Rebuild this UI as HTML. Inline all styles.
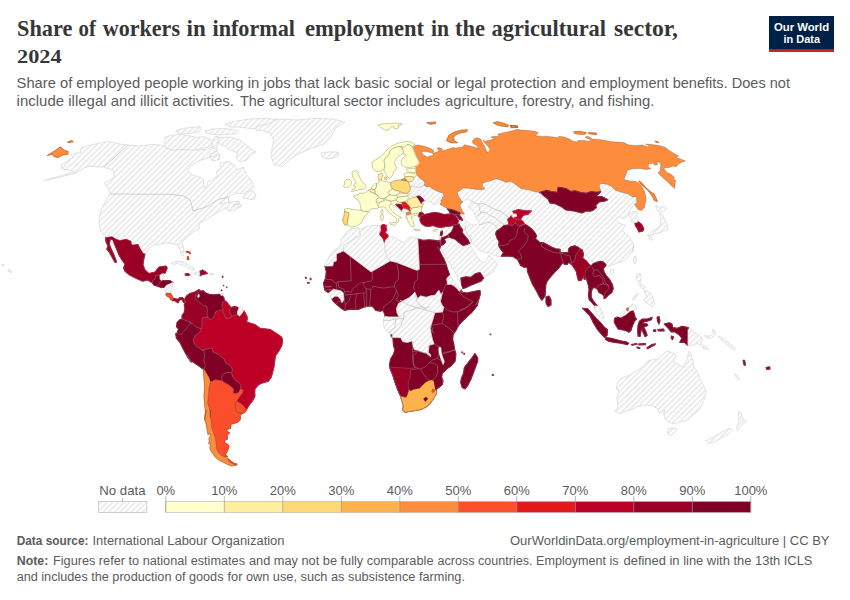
<!DOCTYPE html>
<html><head><meta charset="utf-8"><title>Share of workers in informal employment in the agricultural sector</title>
<style>
html,body{margin:0;padding:0;background:#fff;}
svg{display:block;font-family:"Liberation Sans",sans-serif;}
.n{fill:url(#h);stroke:#d6d6d6;stroke-width:.7}
.nl{fill:none;stroke:#c6c6c6;stroke-width:.8}
.c{stroke:#999;stroke-width:.5;stroke-opacity:.6}
.cl{stroke:#4a4a4a;stroke-width:.5;stroke-opacity:.55}
.l{fill:none;stroke:#999;stroke-width:.5;stroke-opacity:.85}
</style></head><body>
<svg width="850" height="600" viewBox="0 0 850 600">
<defs>
<pattern id="h" patternUnits="userSpaceOnUse" width="4" height="4" patternTransform="rotate(-45 2 2)">
<rect width="4" height="4" fill="#fff"/><path d="M-1,2 l6,0" stroke="#d6d6d6" stroke-width="0.9"/>
</pattern>
</defs>
<rect width="850" height="600" fill="#fff"/>
<g stroke-linejoin="round">
<path class="n" d="M439.1,240.3 L439.7,235.8 L440.5,232.1 L441.5,227.4 L450.0,218.0 L457.0,212.0 L452.0,200.0 L455.0,188.0 L470.0,180.0 L480.0,178.0 L520.0,178.0 L560.0,180.0 L600.0,178.0 L630.0,188.0 L640.0,200.0 L636.0,204.0 L632.0,207.0 L630.0,211.0 L628.2,215.3 L623.3,218.9 L619.0,216.7 L615.5,219.6 L618.3,222.4 L622.6,224.5 L626.1,225.2 L623.3,228.1 L622.6,230.9 L626.1,233.7 L629.7,237.3 L632.5,242.2 L633.9,247.2 L632.5,252.2 L633.7,245.0 L632.3,250.7 L629.5,255.6 L623.8,260.6 L616.7,263.4 L611.1,265.5 L609.0,266.2 L605.4,266.2 L600.0,262.0 L592.0,262.0 L586.0,255.0 L578.0,252.0 L560.0,254.0 L545.0,248.0 L535.0,238.0 L525.0,232.0 L520.0,235.0 L505.0,240.0 L503.0,250.0 L501.0,256.6 L499.5,256.3 L495.8,255.7 L492.7,254.7 L490.2,253.2 L489.3,252.3 L486.5,252.9 L483.1,252.0 L479.7,250.4 L477.0,248.3 L475.1,245.8 L473.3,243.6 L470.8,243.9 L469.9,245.5 L471.1,247.0 L472.6,249.5 L474.5,252.0 L475.7,254.1 L476.6,256.0 L478.5,257.8 L479.4,259.4 L480.3,261.2 L482.5,262.1 L484.7,262.1 L486.2,260.6 L487.1,258.4 L488.4,256.3 L489.6,254.7 L490.2,256.6 L492.1,258.4 L494.5,260.3 L496.4,262.1 L497.0,264.0 L496.4,266.4 L494.5,268.9 L493.3,272.0 L488.0,275.0 L484.0,278.0 L470.0,283.0 L462.0,286.0 L460.0,282.0 L457.5,277.0 L454.0,270.5 L450.0,264.5 L446.0,258.0 L442.5,251.0 L440.0,248.5 L441.0,244.0Z"/>
<path class="n" style="fill:#fff" d="M460.6,203.8 L463.2,201.1 L466.2,199.6 L470.0,200.0 L472.2,201.9 L471.1,203.8 L468.9,204.9 L467.8,206.8 L470.0,209.0 L472.6,210.9 L474.1,213.1 L475.2,215.8 L476.0,218.0 L477.5,220.2 L479.0,222.5 L477.5,224.0 L474.5,225.1 L471.5,224.8 L468.9,223.2 L466.2,221.0 L464.0,218.8 L464.8,216.5 L463.2,214.2 L464.4,213.9 L462.5,211.2 L461.0,208.2 L459.9,205.6Z"/>
<path class="nl" d="M472.0,201.0 L474.5,203.0 L478.5,204.0 L483.0,203.5 L487.0,205.0 L492.0,208.0 L496.0,210.0 L500.0,211.0 L504.0,214.0 L508.0,217.0 L510.0,219.0 M478.5,204.0 L479.5,209.0 L481.0,213.0 L484.0,212.0 L487.0,213.0 L490.0,215.5 L494.0,217.0 L498.0,220.0 L501.0,223.0 L504.0,224.5 M476.5,215.5 L480.0,214.0 L481.0,213.0 M479.0,224.5 L483.0,224.0 L487.0,222.0 L492.0,223.0 L496.0,226.0 L497.5,229.0 M470.0,243.5 L472.0,241.0 L470.0,237.0 L467.0,233.0 L465.0,229.0 L466.0,225.0"/>
<path class="n" d="M416.5,174.0 L418.0,176.0 L420.0,178.5 L423.0,180.0 L425.0,183.0 L424.0,185.0 L426.0,186.5 L429.5,186.5 L432.0,188.5 L435.0,190.0 L438.0,191.5 L441.0,192.5 L443.5,193.5 L444.0,196.5 L442.0,197.5 L442.5,199.0 L441.0,200.0 L439.5,201.0 L438.0,203.0 L435.0,205.0 L432.5,204.0 L431.0,201.0 L428.0,201.5 L425.0,202.0 L423.5,200.0 L423.5,204.0 L421.5,203.5 L422.5,201.5 L424.0,200.5 L421.5,197.5 L419.0,195.8 L417.0,196.5 L413.0,197.0 L410.0,195.5 L408.5,192.5 L410.0,190.0 L409.0,188.0 L409.5,185.0 L408.0,182.0 L410.5,182.0 L412.5,180.0 L413.5,178.0 L415.5,176.5Z"/>
<path class="nl" d="M409.5,187.0 L413.0,186.5 L418.0,187.5 L421.5,186.5 L424.0,185.0"/>
<path class="cl" fill="#fd8d3c" d="M412.0,146.9 L414.2,145.5 L418.4,145.0 L424.8,146.4 L430.5,148.3 L434.0,151.1 L432.6,153.2 L428.3,152.1 L424.1,151.5 L421.2,152.1 L423.4,154.7 L427.6,157.2 L429.0,156.1 L433.3,155.4 L432.9,153.2 L436.8,152.1 L439.0,151.1 L437.1,148.3 L439.0,147.6 L442.5,149.0 L441.8,151.1 L445.3,150.1 L449.6,148.7 L453.8,147.3 L455.2,148.3 L459.5,147.3 L462.3,146.9 L464.4,144.7 L468.0,145.5 L473.7,146.9 L478.6,148.3 L476.5,145.5 L472.9,143.3 L472.2,141.2 L474.4,138.4 L477.2,137.7 L480.7,139.1 L482.2,142.6 L485.0,146.9 L486.7,152.1 L489.5,151.5 L489.9,149.0 L487.1,145.5 L484.3,142.6 L482.9,139.8 L485.0,141.2 L488.5,140.5 L494.2,139.1 L490.7,137.0 L494.9,136.2 L499.2,136.2 L497.7,134.1 L503.4,132.7 L510.5,131.3 L517.6,129.2 L520.5,129.9 L528.3,130.6 L534.7,131.3 L538.5,132.7 L535.4,135.5 L541.1,136.5 L546.7,136.2 L553.1,137.0 L558.1,137.7 L558.8,136.2 L564.4,137.0 L569.4,139.1 L572.9,141.2 L577.2,141.9 L577.9,140.5 L583.6,140.5 L589.9,141.2 L590.7,139.8 L587.1,138.4 L585.0,137.0 L588.5,136.2 L592.1,139.1 L599.2,139.4 L604.8,140.2 L610.5,141.6 L616.1,141.9 L624.0,142.6 L628.2,144.7 L635.3,145.5 L642.4,145.0 L648.1,146.9 L648.8,145.5 L645.2,144.0 L652.3,144.5 L659.4,145.5 L665.1,147.3 L669.3,150.4 L675.0,154.0 L678.5,156.1 L675.7,157.2 L680.7,158.9 L685.6,161.0 L682.1,162.0 L678.5,163.9 L676.4,166.7 L673.6,166.0 L669.3,167.4 L665.8,167.7 L663.7,168.8 L667.2,172.4 L671.4,174.5 L674.3,177.3 L673.6,179.4 L675.7,180.2 L675.0,184.4 L674.7,188.7 L671.4,185.8 L667.2,181.6 L662.2,177.3 L658.7,173.8 L658.0,172.4 L660.1,170.9 L660.8,164.6 L658.7,161.7 L656.9,162.5 L657.7,164.6 L655.4,165.3 L652.3,163.2 L648.8,163.9 L648.1,166.7 L650.9,168.8 L646.7,169.5 L639.6,168.5 L632.5,168.8 L627.5,170.2 L625.4,175.9 L624.0,179.4 L629.7,180.9 L635.3,181.3 L638.9,183.0 L642.4,187.2 L644.5,191.5 L645.9,196.4 L645.9,200.0 L644.5,207.5 L641.7,210.4 L638.2,209.7 L635.3,205.4 L634.6,204.0 L636.7,203.3 L636.7,196.9 L632.5,196.9 L628.2,194.1 L623.3,192.7 L618.3,191.2 L614.8,189.8 L611.2,186.3 L607.0,184.2 L600.6,183.5 L599.2,185.6 L600.6,190.5 L599.9,192.7 L596.3,192.2 L591.4,191.5 L586.4,193.2 L580.7,192.6 L575.1,190.8 L570.8,191.5 L566.6,188.9 L562.3,187.9 L558.1,187.2 L557.4,192.2 L551.0,191.5 L546.7,190.4 L542.5,191.5 L539.7,192.6 L534.0,191.5 L528.3,189.8 L521.2,188.7 L515.6,184.4 L511.3,181.6 L505.7,182.3 L499.2,179.4 L496.3,178.7 L492.1,180.2 L487.8,181.6 L482.9,183.0 L482.2,186.5 L485.0,188.7 L482.2,189.8 L476.5,189.4 L469.4,188.4 L463.7,187.9 L460.9,190.1 L457.4,192.2 L458.1,195.7 L460.9,200.0 L463.0,202.0 L460.0,204.5 L460.5,207.0 L462.0,210.5 L464.5,214.0 L461.5,214.0 L459.0,212.0 L455.0,210.5 L451.0,209.0 L447.0,208.5 L445.0,207.5 L442.0,205.5 L440.0,204.5 L441.0,202.0 L441.0,200.0 L442.5,199.0 L442.0,197.5 L444.0,196.5 L443.5,193.5 L441.0,192.5 L438.0,191.5 L435.0,190.0 L432.0,188.5 L429.5,186.5 L426.0,186.5 L424.0,185.0 L425.0,183.0 L423.0,180.0 L420.0,178.5 L418.0,176.0 L416.5,174.0 L415.0,170.0 L414.9,169.5 L415.6,167.4 L414.9,166.0 L417.7,163.2 L418.4,160.3 L415.6,155.4 L413.5,150.4Z"/>
<path class="cl" fill="#ffffcc" d="M361.0,209.5 L361.0,195.0 L369.0,191.0 L377.0,185.0 L382.0,182.0 L391.0,183.5 L392.5,189.0 L399.0,191.5 L408.0,194.5 L408.5,196.5 L406.5,200.0 L404.0,201.8 L399.0,203.5 L392.0,203.5 L387.0,201.0 L380.0,203.0 L378.0,207.0 L370.0,209.0Z"/>
<g stroke-width="1.1"><path fill="#9a0026" stroke="#9a0026" d="M105.6,237.6 L112.0,236.6 L116.0,239.0 L120.0,240.4 L126.0,239.0 L131.0,241.0 L132.0,245.0 L138.0,244.0 L140.0,248.0 L143.0,253.0 L145.0,254.0 L143.6,260.0 L143.0,265.0 L145.0,270.0 L149.0,273.6 L155.0,272.0 L159.0,267.0 L166.0,266.0 L167.2,268.0 L165.2,273.0 L163.4,273.4 L160.0,275.2 L155.8,275.2 L155.2,278.8 L152.8,280.6 L152.4,282.8 L147.6,280.0 L142.8,281.2 L137.0,278.8 L130.0,275.2 L125.0,271.2 L123.6,268.0 L125.0,264.0 L122.0,260.0 L119.0,255.0 L117.0,250.0 L114.4,244.0 L113.0,240.0 L110.4,239.0 L109.2,244.0 L111.2,249.0 L114.0,255.0 L116.6,262.0 L115.0,262.6 L112.0,257.0 L109.2,252.0 L106.8,249.2 L108.0,246.0 L106.0,242.0Z"/>
<path fill="#800026" stroke="#800026" d="M152.4,282.9 L152.9,280.6 L155.3,278.8 L155.9,275.3 L160.0,275.3 L160.0,279.4 L161.8,280.6 L160.0,282.4 L158.2,284.7 L157.1,285.9 L154.1,285.3Z"/>
<path fill="#800026" stroke="#800026" d="M160.0,282.4 L161.8,280.6 L165.3,280.6 L170.0,280.6 L172.9,282.4 L169.4,284.1 L166.5,285.3 L164.7,287.6 L162.9,287.1 L161.2,287.6 L158.2,286.5 L157.1,285.9 L158.2,284.7Z"/>
<path fill="#fc4e2a" stroke="#fc4e2a" d="M166.5,292.9 L170.6,293.5 L171.8,295.3 L172.9,298.2 L172.4,300.6 L170.6,299.4 L169.4,297.1 L167.6,296.5 L165.9,294.7Z"/>
<path fill="#9a0026" stroke="#9a0026" d="M172.4,300.6 L172.9,298.2 L175.3,298.8 L177.6,299.4 L180.0,297.6 L182.4,297.6 L184.7,299.4 L185.3,302.4 L183.5,302.4 L182.4,300.0 L180.6,299.4 L178.8,301.2 L178.2,302.9 L176.5,301.8 L174.7,300.6Z"/>
<path fill="#9a0026" stroke="#9a0026" d="M185.1,274.1 L187.6,273.5 L190.0,274.7 L188.2,275.6 L185.5,275.3Z"/>
<path fill="#9a0026" stroke="#9a0026" d="M200.0,271.2 L202.4,270.0 L205.3,271.8 L207.6,273.5 L204.1,274.1 L201.8,274.7 L200.2,275.9 L200.0,272.9Z"/>
<path fill="#bd0026" stroke="#bd0026" d="M243.7,310.5 L245.1,312.6 L247.2,316.8 L247.2,319.7 L246.5,321.8 L250.7,323.2 L255.0,324.6 L259.9,328.2 L264.9,328.9 L270.6,329.6 L274.8,332.4 L279.1,335.2 L281.9,337.4 L282.6,340.9 L281.9,345.2 L279.1,350.8 L275.5,355.8 L274.8,360.7 L274.1,366.3 L272.7,372.0 L271.3,377.0 L268.4,381.2 L263.5,382.6 L258.5,384.7 L255.0,389.0 L254.7,392.5 L255.0,396.1 L252.9,400.3 L250.0,403.9 L247.2,408.1 L246.5,410.2 L243.7,406.0 L240.1,403.2 L236.6,401.0 L240.1,396.1 L242.9,392.1 L242.9,389.7 L240.5,389.0 L240.8,385.5 L239.4,383.3 L237.3,381.2 L235.2,380.5 L232.3,376.2 L231.6,372.7 L232.3,369.2 L230.2,365.6 L225.9,363.5 L223.8,358.5 L219.6,355.7 L218.2,354.4 L213.2,352.2 L211.8,348.0 L206.1,349.4 L201.9,350.1 L200.5,348.7 L196.2,346.6 L194.1,343.7 L193.4,339.5 L195.5,335.2 L199.7,332.4 L201.2,328.9 L201.9,325.3 L201.9,320.4 L202.9,317.5 L208.0,317.1 L210.4,319.7 L212.5,318.2 L214.6,315.4 L215.3,311.9 L218.2,310.5 L221.7,309.7 L223.1,308.3 L223.1,311.9 L224.5,314.7 L225.9,318.2 L228.8,318.2 L232.3,316.1 L234.4,315.4 L237.7,314.7 L239.4,316.1 L241.5,314.0Z"/>
<path fill="#9a0026" stroke="#9a0026" d="M184.9,299.1 L186.3,296.3 L189.8,293.5 L194.8,292.0 L199.0,289.6 L200.0,290.6 L198.3,292.7 L196.2,294.2 L195.5,297.7 L197.6,301.2 L200.5,302.7 L203.3,305.5 L206.8,306.2 L207.5,310.5 L207.1,314.7 L208.0,317.1 L202.9,317.5 L201.9,320.4 L201.9,325.3 L201.2,328.9 L199.0,328.2 L195.5,326.7 L192.7,323.9 L189.8,321.8 L187.0,321.1 L182.0,319.0 L182.0,315.4 L184.2,312.6 L184.9,308.3 L184.2,304.8 L185.6,302.0Z"/>
<path fill="#800026" stroke="#800026" d="M200.0,290.6 L201.9,291.3 L202.9,290.6 L205.4,292.7 L209.0,294.2 L213.9,294.9 L218.9,294.2 L221.7,294.9 L223.8,297.7 L224.5,300.5 L222.4,303.4 L221.7,306.2 L223.1,308.3 L221.7,309.7 L218.2,310.5 L215.3,311.9 L214.6,315.4 L212.5,318.2 L210.4,319.7 L208.0,317.1 L207.1,314.7 L207.5,310.5 L206.8,306.2 L203.3,305.5 L200.5,302.7 L197.6,301.2 L195.5,297.7 L196.2,294.2 L198.3,292.7Z"/>
<path fill="#bd0026" stroke="#bd0026" d="M224.5,300.5 L226.7,302.0 L229.5,305.5 L230.9,307.6 L229.5,310.5 L230.2,313.3 L232.3,316.1 L228.8,318.2 L225.9,318.2 L224.5,314.7 L223.1,311.9 L223.1,308.3 L221.7,306.2 L222.4,303.4Z"/>
<path fill="#9a0026" stroke="#9a0026" d="M230.9,307.6 L234.4,306.6 L238.0,307.2 L238.7,309.0 L237.3,311.9 L237.7,314.7 L234.4,315.4 L232.3,316.1 L230.2,313.3 L229.5,310.5Z"/>
<path fill="#800026" stroke="#800026" d="M182.0,319.0 L187.0,321.1 L189.8,321.8 L189.8,323.9 L187.7,326.7 L184.9,330.3 L182.0,333.8 L179.2,334.5 L177.1,333.1 L178.5,328.9 L176.4,326.7 L177.1,322.5 L179.9,319.7Z"/>
<path fill="#800026" stroke="#800026" d="M177.1,333.1 L179.2,334.5 L182.0,333.8 L184.9,330.3 L187.7,326.7 L189.8,323.9 L192.7,323.9 L195.5,326.7 L199.0,328.2 L201.2,328.9 L199.7,332.4 L195.5,335.2 L193.4,339.5 L194.1,343.7 L196.2,346.6 L200.5,348.7 L201.9,350.1 L204.0,350.8 L204.7,355.2 L204.0,360.7 L205.4,365.6 L204.0,369.2 L203.3,369.2 L198.3,365.6 L191.2,360.7 L187.0,355.0 L191.2,362.2 L187.7,357.2 L183.5,349.4 L179.9,342.3 L176.4,338.1 L175.7,333.8Z"/>
<path fill="#800026" stroke="#800026" d="M204.0,350.8 L201.9,350.1 L206.1,349.4 L211.8,348.0 L213.2,352.2 L218.2,354.4 L219.6,355.7 L223.8,358.5 L225.9,363.5 L230.2,365.6 L232.3,369.2 L231.6,372.7 L226.7,372.7 L223.1,374.1 L221.7,377.7 L222.4,381.2 L218.9,380.2 L215.3,379.8 L212.5,381.2 L210.4,381.9 L209.0,377.7 L206.1,372.7 L204.0,369.2 L205.4,365.6 L204.0,360.7 L204.7,355.2Z"/>
<path fill="#800026" stroke="#800026" d="M223.1,374.1 L226.7,372.7 L231.6,372.7 L232.3,376.2 L235.2,380.5 L237.3,381.2 L239.4,383.3 L240.8,385.5 L240.5,389.0 L238.7,392.5 L235.9,393.5 L233.0,393.2 L233.5,389.0 L229.5,385.5 L224.5,382.6 L222.4,381.2 L221.7,377.7Z"/>
<path fill="#fc4e2a" stroke="#fc4e2a" d="M236.6,401.0 L240.1,403.2 L243.7,406.0 L246.5,410.2 L244.4,412.8 L240.1,413.1 L236.6,411.7 L235.2,408.8 L235.4,404.6Z"/>
<path fill="#fc4e2a" stroke="#fc4e2a" d="M210.4,381.9 L212.5,381.2 L215.3,379.8 L218.9,380.2 L222.4,381.2 L224.5,382.6 L229.5,385.5 L233.5,389.0 L233.0,393.2 L235.9,393.5 L238.7,392.5 L240.5,389.0 L242.9,389.7 L242.9,392.1 L240.1,396.1 L236.6,401.0 L235.4,404.6 L235.2,408.8 L236.6,411.7 L238.7,413.1 L243.0,413.0 L240.0,415.0 L240.5,419.0 L238.0,422.0 L234.0,423.5 L231.0,424.0 L230.5,428.5 L228.5,429.0 L226.0,429.5 L227.5,431.5 L229.5,433.0 L227.0,435.0 L227.5,439.0 L225.0,440.0 L224.5,443.0 L227.0,444.0 L229.0,446.0 L228.0,449.5 L226.5,452.5 L225.5,454.5 L227.5,457.0 L225.5,457.0 L222.0,456.0 L218.5,453.0 L216.5,449.0 L216.0,443.0 L215.0,437.0 L213.0,432.0 L211.5,427.0 L211.0,421.0 L210.0,415.0 L210.5,410.0 L210.4,417.3 L209.7,410.2 L207.5,403.2 L208.2,396.1 L209.0,387.6Z"/>
<path fill="#fc4e2a" stroke="#fc4e2a" d="M228.5,459.0 L231.0,461.5 L234.5,463.5 L237.0,464.0 L236.5,465.0 L234.0,464.5 L230.0,462.5 L228.0,460.5Z"/>
<path fill="#fd8d3c" stroke="#fd8d3c" d="M203.3,369.2 L204.0,369.2 L206.1,372.7 L209.0,377.7 L210.4,381.9 L209.0,387.6 L208.2,396.1 L207.5,403.2 L209.7,410.2 L210.4,417.3 L210.5,410.0 L210.0,415.0 L211.0,421.0 L211.5,427.0 L213.0,432.0 L215.0,437.0 L216.0,443.0 L216.5,449.0 L218.5,453.0 L222.0,456.0 L225.5,457.0 L226.0,458.0 L228.5,459.0 L228.0,460.5 L230.0,462.5 L234.0,464.5 L236.5,465.0 L234.5,465.2 L232.0,466.0 L228.0,464.5 L223.0,462.0 L219.0,460.0 L215.0,456.5 L212.0,452.5 L210.0,448.5 L210.5,444.0 L208.5,443.5 L209.5,441.5 L209.0,438.5 L210.5,436.0 L209.8,433.0 L208.0,434.5 L207.0,429.0 L206.2,424.0 L204.8,420.0 L205.0,415.0 L206.5,410.0 L204.7,419.4 L205.4,411.7 L204.7,404.6 L204.0,396.1 L204.7,387.6 L204.0,377.7Z"/>
<path fill="#800026" stroke="#800026" d="M417.8,239.0 L423.5,240.4 L429.2,239.7 L434.8,240.4 L439.1,241.5 L436.8,240.9 L439.1,240.3 L440.6,245.6 L439.4,249.5 L437.9,247.9 L437.5,246.2 L440.4,252.6 L443.9,259.0 L446.0,264.0 L447.5,268.9 L449.6,274.6 L448.2,276.7 L446.7,278.8 L447.5,284.5 L451.7,284.5 L455.9,287.3 L459.5,291.6 L461.6,291.6 L462.3,292.3 L466.6,293.0 L473.7,291.6 L480.0,290.2 L480.3,294.4 L478.6,300.1 L475.1,305.7 L478.6,300.0 L477.2,305.7 L472.2,312.0 L466.6,317.0 L460.9,322.7 L458.1,326.2 L455.9,330.5 L453.1,334.7 L452.7,339.7 L453.8,343.9 L454.5,348.9 L455.9,353.8 L455.8,355.6 L455.1,361.2 L451.5,365.5 L446.6,369.0 L442.3,373.3 L441.6,376.8 L443.0,381.1 L442.3,384.6 L438.8,387.5 L436.7,388.9 L436.4,391.7 L436.4,393.8 L434.5,396.7 L431.0,402.3 L426.7,406.6 L421.1,409.4 L414.0,410.8 L408.3,411.5 L405.5,412.5 L402.7,410.1 L403.4,405.9 L402.0,400.9 L400.5,395.9 L397.7,389.6 L394.9,381.8 L392.7,374.7 L390.6,369.7 L389.6,366.9 L389.6,364.1 L390.6,359.1 L393.5,354.2 L394.9,349.9 L393.5,345.7 L392.9,338.1 L392.2,337.4 L400.7,337.7 L402.8,341.7 L407.7,342.4 L412.0,340.9 L413.4,347.3 L414.2,349.6 L417.7,350.3 L421.2,351.7 L426.2,353.1 L430.5,356.7 L430.5,354.5 L428.3,352.4 L429.0,345.3 L431.9,344.6 L434.0,343.9 L432.6,339.7 L431.2,334.0 L430.5,329.0 L431.2,324.8 L433.3,318.4 L434.7,312.7 L442.5,312.0 L443.9,307.1 L442.5,305.7 L440.4,301.5 L442.5,292.3 L441.1,295.1 L439.0,290.2 L437.5,291.6 L435.4,295.1 L430.5,295.8 L426.2,297.2 L420.5,295.8 L417.7,298.7 L414.9,292.3 L411.3,295.8 L409.2,297.7 L403.5,300.6 L398.5,303.4 L396.4,308.4 L397.1,313.3 L399.2,316.9 L389.3,316.9 L385.1,316.4 L385.1,316.2 L384.4,313.3 L382.9,310.5 L380.1,311.2 L375.9,310.5 L372.3,306.2 L369.5,306.0 L366.7,306.2 L362.4,307.7 L358.2,309.4 L352.5,309.1 L347.5,309.8 L344.7,310.5 L340.5,307.7 L336.2,304.1 L332.7,300.6 L332.0,298.5 L334.8,296.3 L337.6,296.3 L340.5,299.2 L341.9,302.7 L344.0,299.9 L343.3,292.8 L340.5,290.7 L333.4,289.2 L329.1,292.8 L327.7,292.3 L324.9,290.2 L324.2,287.3 L323.5,283.1 L325.6,278.1 L326.3,271.7 L324.9,266.1 L330.0,265.9 L332.8,265.9 L333.5,261.7 L336.4,260.9 L336.4,253.9 L343.5,251.0 L371.1,271.9 L390.2,260.9 L396.6,262.4 L416.4,270.2 L419.2,269.4 L419.2,264.5 L418.5,251.7Z"/>
<path fill="#bd0026" stroke="#bd0026" d="M381.0,225.8 L382.2,224.8 L384.0,224.5 L385.5,225.5 L386.5,225.2 L386.2,226.2 L385.8,227.2 L386.5,228.5 L386.8,230.0 L385.8,231.5 L385.2,232.8 L386.5,234.0 L387.8,235.0 L388.2,236.5 L387.5,238.0 L386.0,239.0 L385.0,240.5 L384.8,242.2 L384.0,242.8 L383.5,241.0 L383.0,239.0 L381.8,237.5 L380.2,235.8 L379.2,234.2 L379.8,232.8 L381.0,231.5 L381.2,229.5 L380.8,227.5Z"/>
<path fill="#800026" stroke="#800026" d="M390.7,333.9 L392.2,334.6 L392.2,337.1 L391.0,336.3Z"/>
<path fill="#bd0026" stroke="#bd0026" d="M459.5,290.9 L461.2,289.9 L462.3,292.3 L460.2,293.0Z"/>
<path fill="#9a0026" stroke="#9a0026" d="M389.6,366.9 L397.0,367.6 L404.8,368.0 L410.5,368.3 L417.5,367.6 L418.2,369.0 L410.5,369.7 L410.0,378.2 L408.3,381.1 L408.3,387.5 L409.0,389.6 L407.6,394.5 L406.2,397.4 L402.7,396.7 L400.5,395.9 L397.7,389.6 L394.9,381.8 L392.7,374.7 L390.6,369.7Z"/>
<path fill="#feb24c" stroke="#feb24c" d="M400.5,395.9 L402.7,396.7 L406.2,397.4 L407.6,394.5 L409.0,389.6 L410.5,391.0 L413.3,389.6 L416.1,388.9 L419.7,388.2 L422.5,385.3 L425.3,382.5 L428.9,380.4 L431.7,379.9 L433.8,381.1 L434.5,385.3 L435.2,388.9 L436.7,391.7 L436.4,393.8 L434.5,396.7 L431.0,402.3 L426.7,406.6 L421.1,409.4 L414.0,410.8 L408.3,411.5 L405.5,412.5 L402.7,410.1 L403.4,405.9 L402.0,400.9Z"/>
<path fill="#800026" stroke="#800026" d="M423.2,398.8 L426.0,396.7 L428.2,398.8 L425.3,402.0Z"/>
<path fill="#fc4e2a" stroke="#fc4e2a" d="M432.1,389.6 L433.8,388.9 L435.0,391.3 L433.1,393.1 L431.7,391.7Z"/>
<path fill="#800026" stroke="#800026" d="M474.9,353.5 L477.7,357.7 L477.7,361.2 L475.6,366.9 L473.5,372.6 L470.7,379.7 L467.8,385.3 L465.0,388.9 L462.2,387.5 L460.7,382.5 L461.4,378.2 L463.6,373.3 L464.3,367.6 L467.1,364.1 L472.1,357.7Z"/>
<path fill="#800026" stroke="#800026" d="M461.9,352.0 L462.6,352.0 L462.6,352.7 L461.9,352.7ZM463.9,353.4 L464.6,353.4 L464.6,354.1 L463.9,354.1Z"/>
<path fill="#9a0026" stroke="#9a0026" d="M492.4,374.5 L493.2,374.5 L493.2,375.5 L492.4,375.5Z"/>
<path fill="#9a0026" stroke="#9a0026" d="M490.2,334.1 L490.8,334.1 L490.8,334.7 L490.2,334.7Z"/>
<path fill="#9a0026" stroke="#9a0026" d="M305.4,277.4 L306.2,277.4 L306.2,278.2 L305.4,278.2ZM310.2,278.4 L311.0,278.4 L311.0,279.6 L310.2,279.6ZM307.6,282.6 L309.2,282.4 L309.2,283.0 L307.6,283.2Z"/>
<path fill="#9a0026" stroke="#9a0026" d="M420.0,217.0 L423.0,215.0 L427.0,214.0 L431.0,213.0 L435.0,212.5 L439.0,213.0 L444.0,214.5 L449.0,214.0 L452.5,214.0 L455.0,215.5 L457.0,218.0 L458.5,221.0 L457.5,223.5 L459.0,225.5 L455.0,224.5 L451.0,226.0 L446.0,226.5 L441.0,227.5 L437.0,227.0 L433.0,225.5 L429.0,226.5 L425.0,226.0 L421.5,223.5 L420.0,220.5Z"/>
<path fill="#800026" stroke="#800026" d="M447.4,209.1 L452.1,209.7 L456.8,211.5 L460.3,213.2 L459.7,214.4 L457.4,214.4 L454.4,214.2 L450.3,213.5 L449.1,210.9Z"/>
<path fill="#800026" stroke="#800026" d="M455.0,214.6 L457.9,214.4 L460.3,216.2 L462.1,219.1 L462.4,220.3 L460.3,219.7 L458.5,218.2 L457.4,216.2Z"/>
<path fill="#ffffcc" stroke="#ffffcc" d="M433.0,230.3 L435.0,229.1 L437.4,229.1 L436.2,230.9 L433.8,231.5Z"/>
<path fill="#800026" stroke="#800026" d="M440.9,231.8 L442.4,231.1 L442.6,233.2 L441.5,235.8 L440.3,235.4Z"/>
<path fill="#800026" stroke="#800026" d="M453.8,225.0 L459.1,224.1 L460.3,226.8 L462.6,229.7 L462.1,232.6 L465.0,236.2 L467.9,239.7 L469.7,243.2 L466.8,244.4 L463.2,245.6 L459.1,242.6 L455.0,239.1 L451.5,237.9 L448.5,236.8 L448.5,234.6 L451.5,232.1 L453.2,228.5Z"/>
<path fill="#800026" stroke="#800026" d="M442.6,237.4 L445.6,236.4 L448.5,235.0 L448.5,237.0 L444.4,239.1 L445.6,242.1 L443.2,244.4 L440.9,245.6 L440.9,240.3 L441.5,237.9Z"/>
<path fill="#800026" stroke="#800026" d="M460.9,278.1 L465.9,276.7 L470.8,277.4 L475.1,273.9 L480.0,272.5 L483.6,278.1 L481.4,280.9 L476.5,283.1 L470.8,285.2 L466.6,287.3 L463.0,288.7 L461.6,284.5Z"/>
<path fill="#800026" stroke="#800026" d="M496.4,231.2 L500.6,228.4 L504.2,225.5 L509.1,224.8 L512.7,225.5 L515.5,222.0 L516.2,224.1 L518.3,226.2 L521.9,224.8 L524.7,224.1 L528.2,226.2 L532.5,229.8 L535.3,233.3 L536.7,236.2 L535.3,238.3 L539.6,242.5 L543.1,242.5 L545.9,244.0 L550.9,246.8 L555.9,248.9 L560.1,249.2 L560.5,252.5 L568.2,252.5 L568.8,248.6 L570.7,246.8 L575.0,245.8 L578.5,247.5 L579.9,248.9 L578.5,251.7 L575.7,255.3 L575.0,259.5 L572.9,263.1 L571.4,261.7 L570.7,263.8 L568.6,262.4 L567.2,264.5 L564.4,264.5 L563.7,263.1 L562.2,263.1 L559.4,267.3 L555.2,271.6 L550.9,276.5 L547.4,280.8 L545.9,284.3 L545.5,290.0 L545.0,295.9 L542.0,300.3 L539.6,297.1 L536.0,290.0 L532.5,284.3 L529.7,277.2 L527.5,271.6 L527.1,267.3 L524.0,267.3 L520.5,265.2 L517.6,259.5 L513.4,256.7 L508.4,256.0 L501.3,256.3 L503.5,252.5 L500.6,248.9 L498.5,245.4 L499.2,241.8 L497.1,238.3 L495.7,234.0Z"/>
<path fill="#800026" stroke="#800026" d="M546.0,297.0 L549.0,296.0 L551.0,300.0 L551.0,305.0 L548.0,306.4 L546.0,303.0Z"/>
<path fill="#bd0026" stroke="#bd0026" d="M512.7,211.4 L518.3,209.5 L525.4,210.7 L531.4,210.9 L528.2,214.2 L523.3,215.2 L520.5,219.2 L516.2,219.2 L512.7,217.7 L509.8,218.5 L511.2,215.6 L514.8,214.2Z"/>
<path fill="#bd0026" stroke="#bd0026" d="M507.7,219.2 L511.2,216.6 L513.4,218.5 L516.2,219.4 L520.5,219.4 L523.3,222.0 L524.7,224.1 L521.9,224.8 L518.3,226.2 L516.2,224.1 L515.5,222.0 L512.7,225.5 L509.1,224.8Z"/>
<path fill="#800026" stroke="#800026" d="M591.0,266.0 L593.4,263.4 L597.6,262.0 L600.5,261.3 L603.3,262.0 L606.1,264.8 L605.4,266.2 L603.3,268.4 L604.0,271.9 L606.1,275.5 L609.7,279.7 L612.5,284.7 L613.2,288.9 L611.8,292.5 L608.2,295.3 L605.4,298.1 L604.0,298.8 L604.0,296.0 L601.9,293.9 L599.0,292.5 L597.6,289.6 L596.2,288.2 L594.1,287.5 L592.7,288.2 L591.2,291.7 L591.2,297.4 L593.4,300.9 L596.2,304.5 L597.6,305.9 L594.8,305.9 L591.2,301.7 L589.1,299.5 L588.4,293.9 L589.1,290.3 L588.4,285.4 L586.3,278.3 L583.0,274.0 L584.4,270.8 L587.3,268.4Z"/>
<path fill="#9a0026" stroke="#9a0026" d="M579.9,248.9 L582.1,249.6 L583.5,253.9 L582.8,258.1 L586.3,260.9 L589.2,264.5 L591.3,265.9 L587.7,268.0 L585.6,270.9 L584.9,274.4 L586.3,278.7 L584.2,279.4 L583.5,276.5 L581.4,280.1 L578.5,280.8 L577.1,275.8 L576.4,271.6 L573.6,267.3 L572.2,265.2 L570.7,263.8 L571.4,261.7 L572.9,263.1 L575.0,259.5 L575.7,255.3 L578.5,251.7Z"/>
<path fill="#800026" stroke="#800026" d="M582.5,308.2 L587.7,308.8 L592.0,313.5 L596.2,318.4 L600.5,322.7 L604.0,326.9 L607.5,329.7 L607.1,335.4 L604.7,337.5 L601.9,334.7 L597.6,329.7 L593.4,322.7 L589.8,315.6 L585.6,311.3Z"/>
<path fill="#800026" stroke="#800026" d="M606.1,337.5 L611.1,338.2 L616.7,339.7 L621.7,341.1 L625.9,341.8 L628.8,343.2 L627.4,344.6 L621.0,343.2 L614.6,342.5 L608.2,341.1 L605.4,339.4Z"/>
<path fill="#800026" stroke="#800026" d="M631.5,344.5 L636.6,343.5 L637.0,344.3 L632.3,345.3ZM638.3,344.1 L645.5,343.5 L645.5,344.6 L639.4,345.0ZM636.9,347.0 L639.8,347.6 L639.8,348.4 L637.1,348.0ZM646.9,347.7 L651.7,344.6 L655.4,343.9 L654.7,344.9 L650.7,347.0 L647.5,348.7Z"/>
<path fill="#800026" stroke="#800026" d="M614.6,318.4 L617.5,316.7 L621.0,317.7 L625.9,314.9 L630.2,311.3 L633.0,310.6 L634.4,314.2 L635.2,317.7 L636.6,319.1 L634.4,321.2 L632.3,326.2 L630.9,330.5 L628.8,332.3 L625.9,330.5 L621.7,329.7 L618.2,329.0 L616.0,325.5 L614.2,322.0Z"/>
<path fill="#fc4e2a" stroke="#fc4e2a" d="M626.4,309.2 L628.1,307.8 L628.8,309.9 L627.4,311.3Z"/>
<path fill="#800026" stroke="#800026" d="M639.4,321.2 L642.2,319.1 L647.2,319.1 L652.2,317.3 L651.4,319.8 L647.2,321.2 L643.7,322.0 L642.9,323.4 L647.2,324.1 L647.9,325.5 L643.7,326.9 L645.8,331.2 L647.2,335.4 L645.1,336.8 L642.9,331.9 L641.5,328.3 L640.8,331.9 L640.1,336.5 L638.0,336.1 L637.7,330.5 L638.0,325.5Z"/>
<path fill="#800026" stroke="#800026" d="M657.1,317.0 L659.2,316.7 L659.9,321.2 L659.0,324.1 L657.5,321.2ZM653.6,330.0 L655.7,329.7 L655.7,331.4 L653.6,331.4ZM657.8,329.5 L663.5,329.0 L664.2,330.9 L658.5,330.9ZM671.3,336.1 L673.4,336.8 L672.7,339.7 L671.3,338.5Z"/>
<path fill="#800026" stroke="#800026" d="M664.2,324.1 L669.2,322.7 L672.0,324.1 L672.7,327.6 L677.6,328.3 L681.9,326.2 L688.3,327.6 L687.6,345.3 L684.7,342.5 L679.8,342.5 L681.9,338.2 L679.1,334.7 L674.8,331.9 L671.3,331.9 L668.4,328.3 L666.3,326.2Z"/>
<path fill="#9a0026" stroke="#9a0026" d="M634.6,223.1 L638.2,221.7 L641.7,224.5 L643.8,228.8 L643.1,230.9 L638.9,232.0 L637.5,228.8 L635.6,225.9Z"/>
<path fill="#fd8d3c" stroke="#fd8d3c" d="M446.7,140.5 L448.9,135.5 L453.8,132.3 L460.9,130.3 L467.3,129.9 L466.6,131.7 L460.9,132.7 L455.9,134.5 L453.1,137.7 L454.5,141.2 L457.4,142.6 L452.4,142.6 L448.9,141.9ZM426.9,122.8 L435.4,122.1 L435.4,123.5 L430.5,124.2ZM493.5,122.8 L497.7,121.8 L504.1,123.5 L508.4,125.2 L507.6,126.6 L502.0,126.0 L496.3,124.6ZM510.5,125.2 L517.6,126.0 L517.6,127.5 L511.9,127.0ZM510.2,125.2 L517.0,126.0 L517.7,127.5 L511.3,127.7ZM573.7,132.0 L579.3,131.3 L586.4,132.7 L585.0,134.1 L579.3,134.1 L575.1,133.4ZM588.5,132.7 L596.3,133.1 L596.3,134.5 L589.2,133.8ZM655.2,141.2 L657.3,141.6 L658.7,142.6 L656.6,142.2ZM638.9,180.9 L641.7,183.0 L645.9,187.9 L650.9,192.2 L654.4,194.3 L654.4,194.8 L657.3,201.2 L654.4,200.5 L652.3,196.2 L648.8,191.2 L644.5,187.0 L641.0,184.2ZM47.4,155.6 L52.4,152.4 L60.6,147.0 L63.6,150.0 L68.0,151.4 L68.0,154.0 L62.4,155.0 L58.0,157.4 L54.0,156.4 L52.4,154.0ZM67.6,142.0 L72.0,140.6 L73.0,141.6 L69.0,142.8Z"/>
<path fill="#800026" stroke="#800026" d="M539.7,192.6 L542.5,191.5 L546.7,190.4 L551.0,191.5 L557.4,192.2 L558.1,187.2 L562.3,187.9 L566.6,188.9 L570.8,191.5 L575.1,190.8 L580.7,192.6 L586.4,193.2 L591.4,191.5 L596.3,192.2 L600.8,191.5 L599.9,192.7 L596.4,196.2 L602.7,196.9 L607.7,199.7 L604.2,201.2 L599.2,201.9 L595.7,205.4 L596.4,207.5 L592.8,210.4 L590.0,211.1 L586.0,211.0 L582.0,213.0 L574.0,211.0 L566.0,210.0 L562.0,207.0 L556.0,204.0 L550.0,203.0 L548.0,199.0 L543.0,195.0 L541.0,193.0Z"/>
<path fill="#ffffcc" stroke="#ffffcc" d="M378.0,125.0 L382.0,124.0 L388.0,123.5 L395.0,123.0 L401.5,123.5 L402.0,124.8 L398.0,125.5 L399.0,127.5 L397.0,128.8 L394.5,128.5 L394.0,127.0 L391.5,126.5 L390.0,128.5 L387.0,130.5 L384.0,129.5 L381.0,127.5Z"/>
<path fill="#ffffcc" stroke="#ffffcc" d="M372.0,163.0 L373.5,161.0 L378.0,158.5 L381.5,156.0 L385.0,152.0 L388.5,148.5 L392.5,145.5 L397.0,143.5 L402.0,142.2 L407.0,141.5 L411.0,142.0 L414.0,143.5 L414.5,145.0 L412.0,146.5 L409.5,145.0 L407.0,144.5 L405.5,146.0 L404.0,147.5 L401.5,146.5 L398.5,146.5 L395.5,147.5 L392.5,148.5 L390.0,151.0 L389.0,154.5 L387.0,157.0 L385.0,158.5 L384.0,161.0 L385.0,165.5 L384.5,168.0 L382.5,170.0 L379.5,171.5 L376.5,171.5 L374.0,170.0 L372.5,167.0Z"/>
<path fill="#ffffcc" stroke="#ffffcc" d="M384.0,161.0 L385.0,158.5 L387.0,157.0 L389.0,154.5 L390.0,151.0 L392.5,148.5 L395.5,147.5 L398.5,146.5 L401.5,148.0 L403.0,150.0 L403.5,152.5 L402.0,154.0 L399.0,156.0 L396.0,159.0 L394.5,162.0 L395.0,165.0 L397.0,167.0 L396.0,169.5 L393.5,171.5 L393.0,174.5 L391.5,177.0 L389.5,178.5 L387.5,176.5 L385.5,173.5 L384.0,170.5 L384.5,168.0 L385.0,165.5Z"/>
<path fill="#ffffcc" stroke="#ffffcc" d="M401.5,146.5 L404.0,147.5 L405.5,146.0 L407.0,144.5 L409.5,145.0 L412.0,146.5 L413.0,149.5 L414.5,153.0 L416.0,156.5 L418.0,160.0 L419.0,163.0 L416.0,166.0 L412.0,167.0 L408.0,167.5 L404.5,167.0 L402.0,165.5 L401.0,162.0 L402.0,159.0 L405.0,156.5 L406.0,154.5 L403.5,154.0 L403.5,152.5 L403.0,150.0Z"/>
<path fill="#ffffcc" stroke="#ffffcc" d="M406.5,169.0 L410.5,168.5 L415.0,168.2 L415.5,170.5 L415.0,173.0 L411.5,172.5 L408.5,172.0 L407.0,170.5Z"/>
<path fill="#ffffcc" stroke="#ffffcc" d="M404.0,174.0 L407.0,172.5 L411.0,173.0 L415.0,173.5 L416.5,175.5 L414.5,177.0 L411.0,176.5 L408.0,176.5 L404.5,176.5Z"/>
<path fill="#ffeda0" stroke="#ffeda0" d="M404.0,178.0 L408.0,176.5 L413.0,177.0 L414.0,179.0 L412.0,181.5 L408.0,181.5 L406.5,180.5 L406.0,179.2Z"/>
<path fill="#fd8d3c" stroke="#fd8d3c" d="M401.0,180.0 L403.0,179.0 L406.0,179.2 L406.5,180.5 L404.0,180.8Z"/>
<path fill="#ffeda0" stroke="#ffeda0" d="M378.5,174.5 L381.5,173.0 L383.0,174.5 L382.0,177.5 L381.2,180.5 L379.0,180.5 L378.2,177.0ZM384.5,177.2 L386.8,177.0 L387.0,179.5 L385.0,179.8Z"/>
<path fill="#ffffcc" stroke="#ffffcc" d="M352.0,172.0 L355.5,170.5 L358.5,172.0 L357.5,174.0 L359.0,175.0 L360.0,178.0 L361.5,181.0 L363.5,183.0 L365.5,185.0 L366.0,187.5 L364.5,189.0 L361.0,189.5 L357.5,190.0 L354.0,191.0 L351.5,191.5 L352.5,189.5 L355.0,188.5 L355.5,186.5 L353.5,186.0 L354.0,184.0 L356.5,183.0 L355.0,180.5 L353.5,178.5 L352.5,176.5Z"/>
<path fill="#ffffcc" stroke="#ffffcc" d="M344.5,181.5 L347.0,179.5 L350.0,179.5 L351.5,182.0 L351.0,185.0 L348.5,187.0 L345.0,187.5 L343.5,186.5 L344.5,184.5Z"/>
<path fill="#ffffcc" stroke="#ffffcc" d="M361.5,210.5 L360.5,207.0 L360.0,203.0 L358.5,200.5 L355.0,198.0 L353.5,196.0 L356.5,195.0 L359.0,194.5 L360.0,193.0 L363.0,193.5 L366.0,192.0 L368.5,190.0 L370.0,191.5 L373.5,193.0 L375.0,194.0 L378.0,195.0 L378.5,197.5 L376.5,199.5 L376.0,202.0 L378.0,205.0 L378.5,207.5 L377.0,209.0 L373.5,208.5 L370.0,209.5 L368.5,212.0 L365.0,211.5Z"/>
<path fill="#ffffcc" stroke="#ffffcc" d="M344.5,209.0 L348.0,208.5 L353.0,209.5 L358.0,210.0 L361.5,210.5 L365.0,211.5 L368.5,212.0 L367.0,214.5 L364.0,217.0 L362.5,220.0 L361.5,223.0 L358.0,225.0 L354.5,226.5 L351.0,227.5 L349.5,226.0 L347.0,225.0 L347.5,221.5 L348.0,218.0 L349.0,214.5 L348.5,212.5 L344.5,211.5Z"/>
<path fill="#fed976" stroke="#fed976" d="M344.5,211.5 L348.5,212.5 L349.0,214.5 L348.0,218.0 L347.5,221.5 L347.0,225.0 L344.5,225.0 L343.5,222.0 L342.5,220.0 L344.0,216.0Z"/>
<path fill="#ffffcc" stroke="#ffffcc" d="M371.0,189.0 L372.0,186.0 L374.5,184.0 L376.5,183.5 L376.5,187.0 L375.0,189.5 L374.0,189.5Z"/>
<path fill="#ffffcc" stroke="#ffffcc" d="M376.5,183.5 L379.0,182.5 L379.5,179.5 L381.5,179.5 L382.0,181.0 L385.0,181.5 L388.0,182.0 L390.5,182.5 L391.0,186.0 L392.5,189.0 L389.5,191.0 L388.0,192.5 L389.5,195.0 L387.0,197.5 L384.0,198.5 L380.0,198.5 L378.5,197.5 L378.0,195.0 L375.0,194.0 L375.0,191.5 L375.0,189.5 L376.5,187.0Z"/>
<path fill="#ffeda0" stroke="#ffeda0" d="M368.5,190.0 L371.0,189.0 L374.0,189.5 L375.0,191.5 L375.0,194.0 L373.5,193.0 L370.0,191.5Z"/>
<path fill="#fed976" stroke="#fed976" d="M391.0,182.5 L395.0,180.5 L400.0,180.0 L404.0,180.8 L408.0,181.5 L409.5,185.0 L410.5,189.0 L409.0,192.0 L406.0,193.5 L402.0,192.5 L399.0,191.0 L396.0,191.0 L392.5,189.0 L391.0,186.0Z"/>
<path fill="#ffffcc" stroke="#ffffcc" d="M388.0,192.5 L389.5,191.0 L392.5,189.0 L396.0,191.0 L399.0,191.0 L400.0,193.0 L397.0,195.0 L394.0,195.5 L391.0,195.0 L389.5,195.0Z"/>
<path fill="#ffffcc" stroke="#ffffcc" d="M384.0,198.5 L387.0,197.5 L389.5,195.0 L391.0,195.0 L394.0,195.5 L397.0,195.0 L397.5,197.5 L396.0,200.0 L392.0,201.0 L389.0,200.5 L386.0,200.0Z"/>
<path fill="#ffffcc" stroke="#ffffcc" d="M376.0,199.5 L378.5,197.8 L382.0,198.5 L384.0,199.0 L383.0,201.2 L379.5,202.5 L376.5,202.0Z"/>
<path fill="#ffffcc" stroke="#ffffcc" d="M397.0,195.0 L400.0,193.0 L404.0,193.5 L408.5,194.0 L407.5,196.0 L404.0,196.5 L400.0,197.0 L397.5,197.5Z"/>
<path fill="#ffffcc" stroke="#ffffcc" d="M397.5,197.5 L400.0,197.0 L404.0,196.5 L407.5,196.0 L409.0,197.5 L407.0,200.0 L404.0,202.0 L400.0,202.5 L397.0,201.5 L396.0,200.0Z"/>
<path fill="#ffffcc" stroke="#ffffcc" d="M378.0,205.0 L379.5,202.5 L383.0,201.2 L386.0,200.0 L389.0,200.5 L391.0,202.0 L392.0,204.0 L389.5,205.0 L389.0,207.0 L391.0,209.5 L391.8,210.8 L394.8,213.8 L398.5,216.0 L401.1,217.1 L401.5,218.3 L399.6,218.3 L398.5,219.0 L398.9,220.9 L397.4,222.4 L396.3,220.9 L397.0,219.0 L395.5,217.5 L392.9,215.6 L389.5,213.0 L389.5,212.5 L386.5,209.5 L384.5,207.0 L382.0,207.0 L378.5,207.5Z"/>
<path fill="#ffffcc" stroke="#ffffcc" d="M389.5,222.8 L392.5,222.6 L396.3,222.2 L395.9,224.3 L394.8,225.8 L392.5,224.6 L390.3,224.3Z"/>
<path fill="#ffffcc" stroke="#ffffcc" d="M380.5,215.0 L383.0,214.5 L383.5,218.0 L382.5,220.5 L380.8,220.0Z"/>
<path fill="#ffffcc" stroke="#ffffcc" d="M381.0,210.0 L382.5,209.5 L383.0,212.5 L381.8,214.0 L381.0,212.5Z"/>
<path fill="#ffffcc" stroke="#ffffcc" d="M391.0,202.0 L392.0,201.0 L396.0,200.0 L397.0,201.5 L400.0,202.5 L403.0,203.5 L402.0,204.5 L399.0,204.0 L396.0,203.5 L395.5,204.4 L396.3,205.5 L397.8,207.0 L400.0,208.9 L401.9,210.8 L400.8,210.8 L398.5,208.9 L396.3,207.4 L394.0,205.5 L391.8,204.4 L390.6,203.3Z"/>
<path fill="#9a0026" stroke="#9a0026" d="M395.5,204.4 L398.5,204.0 L401.9,204.4 L403.0,206.3 L403.4,208.5 L401.9,210.8 L400.0,208.9 L397.8,207.0 L396.3,205.5Z"/>
<path fill="#e31a1c" stroke="#e31a1c" d="M401.9,202.1 L404.1,201.8 L406.8,203.3 L409.0,205.5 L410.1,207.0 L409.8,209.6 L410.9,210.8 L409.0,211.1 L407.5,210.0 L406.0,209.3 L403.8,208.9 L403.0,206.3 L401.9,204.4Z"/>
<path fill="#fd8d3c" stroke="#fd8d3c" d="M406.4,212.6 L409.0,211.9 L410.9,212.3 L410.9,214.1 L409.0,215.1 L406.8,214.9Z"/>
<path fill="#ffffcc" stroke="#ffffcc" d="M406.8,215.1 L409.0,215.1 L410.9,214.1 L413.5,213.8 L415.8,213.4 L418.4,213.8 L418.8,215.3 L416.5,215.6 L414.3,215.3 L412.8,216.4 L412.4,217.5 L411.3,216.8 L410.9,217.9 L412.4,220.5 L413.9,222.0 L413.1,223.9 L414.6,225.0 L413.9,226.5 L411.6,226.9 L410.5,225.0 L409.0,223.1 L407.9,220.9 L407.5,219.0 L406.4,216.8Z"/>
<path fill="#ffffcc" stroke="#ffffcc" d="M413.9,229.1 L416.5,229.4 L419.9,229.5 L419.9,230.4 L416.9,230.6 L414.3,230.1Z"/>
<path fill="#ffffcc" stroke="#ffffcc" d="M410.9,210.8 L411.3,208.5 L413.5,207.4 L416.5,207.4 L419.5,206.6 L422.1,207.0 L421.4,209.3 L421.0,211.5 L420.3,213.0 L418.4,213.8 L415.8,213.4 L413.5,213.8 L410.9,214.1 L410.9,212.3Z"/>
<path fill="#ffeda0" stroke="#ffeda0" d="M406.8,203.3 L407.5,200.6 L409.8,198.8 L412.8,197.6 L416.1,197.1 L418.0,198.4 L419.5,200.6 L421.0,203.6 L423.3,204.0 L422.1,207.0 L419.5,206.6 L416.5,207.4 L413.5,207.4 L411.3,208.5 L410.1,207.0 L409.0,205.5Z"/>
<path fill="#800026" stroke="#800026" d="M416.9,196.5 L418.8,195.9 L421.0,197.3 L422.9,199.1 L424.0,200.6 L422.1,201.4 L421.0,203.6 L419.5,200.6 L418.0,198.4Z"/>
<path fill="#9a0026" stroke="#9a0026" d="M419.1,212.6 L421.0,212.1 L423.3,213.4 L424.0,214.5 L421.8,214.9 L420.3,216.0 L418.4,216.8 L418.8,214.9Z"/>
<path fill="#800026" stroke="#800026" d="M743.1,360.3 L744.6,360.3 L745.5,365.0 L744.1,365.2Z"/>
<path fill="#800026" stroke="#800026" d="M766.1,367.5 L769.7,366.9 L770.0,368.9 L766.9,369.5Z"/>
<path fill="#fc4e2a" stroke="#fc4e2a" d="M186.3,251.4 L189.8,251.9 L190.5,253.6 L189.8,253.9 L189.5,252.6 L186.3,252.3ZM187.2,257.0 L188.4,256.6 L188.8,259.4 L187.6,259.8Z"/>
<path fill="#9a0026" stroke="#9a0026" d="M222.4,276.0 L222.8,276.0 L222.8,277.4 L222.4,277.4ZM223.3,285.2 L223.8,285.2 L223.8,285.8 L223.3,285.8ZM226.5,287.1 L226.9,287.1 L226.9,287.6 L226.5,287.6ZM221.2,290.1 L221.8,290.1 L221.8,290.7 L221.2,290.7Z"/></g>
<path class="n" d="M82.4,147.0 L88.0,145.6 L100.0,143.0 L108.0,141.6 L120.0,144.0 L128.0,145.0 L140.0,146.0 L152.0,144.4 L160.0,145.0 L170.0,147.5 L180.0,149.0 L190.0,149.5 L200.0,150.0 L208.0,149.0 L214.0,145.5 L218.0,150.0 L214.0,155.0 L208.0,158.0 L196.7,161.7 L187.5,169.5 L191.0,174.5 L198.2,176.6 L203.8,179.4 L203.1,184.4 L204.5,188.0 L206.7,186.5 L208.0,181.6 L212.3,179.4 L217.3,175.9 L216.6,171.7 L220.8,167.4 L220.0,163.0 L229.0,161.5 L235.0,166.0 L237.0,170.0 L243.5,167.0 L246.0,174.0 L251.0,180.0 L254.0,186.0 L250.0,190.0 L242.0,194.0 L236.0,193.0 L230.0,196.0 L224.0,200.0 L220.0,204.0 L228.0,202.5 L239.0,201.0 L240.0,203.0 L233.0,205.5 L240.0,204.0 L242.0,206.0 L234.0,210.0 L228.0,211.0 L226.0,208.0 L222.0,210.0 L218.0,212.0 L214.0,215.0 L210.0,217.0 L205.0,220.0 L200.0,223.0 L199.0,229.0 L192.0,233.0 L186.0,238.0 L182.0,242.4 L183.0,246.0 L184.0,251.0 L183.0,256.0 L181.0,255.0 L180.0,250.0 L178.0,245.0 L172.0,243.6 L166.0,243.0 L160.0,244.4 L154.0,245.0 L148.0,249.0 L145.0,254.0 L143.0,253.0 L140.0,248.0 L138.0,244.0 L132.0,245.0 L131.0,241.0 L126.0,238.8 L120.0,240.2 L116.0,239.0 L112.0,236.6 L105.6,237.2 L100.0,230.0 L99.0,220.0 L101.0,210.0 L106.0,200.0 L110.0,194.0 L109.0,190.0 L104.0,183.0 L112.0,179.0 L114.4,176.0 L113.0,170.0 L106.0,168.0 L104.0,167.0 L98.0,167.0 L90.0,166.0 L84.0,168.0 L76.0,173.0 L60.0,177.0 L44.0,180.6 L60.0,176.0 L74.0,171.5 L68.0,170.0 L62.0,169.0 L61.0,165.0 L66.0,162.0 L73.0,157.0 L71.0,155.0 L76.0,153.0 L81.0,153.0 L80.0,150.0Z"/>
<path class="nl" d="M128.0,145.0 L104.0,167.0 M110.0,194.0 L172.0,194.4 L184.0,196.0 L190.0,200.0 L192.0,206.0 L193.0,211.0 L199.0,209.0 L206.0,207.0 L210.0,205.0 L214.0,202.0 L220.0,199.0 L224.0,198.0 L228.0,197.0 L229.0,203.0"/>
<path class="n" d="M245.0,194.0 L253.0,190.0 L256.0,196.0 L254.0,200.0 L249.0,199.0 L243.0,198.0Z"/>
<path class="n" d="M256.0,127.0 L264.0,121.0 L278.0,119.0 L298.0,120.0 L314.0,118.4 L334.0,119.0 L345.0,122.0 L336.0,128.0 L330.0,138.0 L324.0,144.0 L310.0,149.0 L300.0,153.0 L290.0,159.0 L282.0,167.0 L274.0,164.0 L271.0,156.0 L272.0,148.0 L274.0,140.0 L270.0,133.0 L264.0,131.0 L256.0,130.0Z"/>
<path class="n" d="M321.0,153.0 L328.0,152.0 L338.0,152.0 L339.0,155.0 L334.0,158.0 L327.0,159.0 L322.0,157.0Z"/>
<path class="n" d="M225.0,124.0 L236.0,121.0 L250.0,119.0 L266.0,118.4 L277.0,119.6 L268.0,124.0 L258.0,126.0 L255.0,129.0 L246.0,128.0 L238.0,127.0 L230.0,127.0Z"/>
<path class="n" d="M216.0,138.0 L230.0,137.0 L240.0,140.0 L250.0,148.0 L256.0,152.0 L250.0,155.0 L247.0,160.0 L240.0,162.0 L236.0,158.0 L238.0,153.0 L230.0,150.0 L224.0,146.0 L218.0,143.0Z"/>
<path class="n" d="M165.0,137.3 L172.1,134.9 L180.3,134.4 L188.5,135.5 L195.6,137.3 L203.8,136.7 L210.9,139.6 L212.1,144.4 L207.4,147.3 L200.3,148.5 L194.4,150.2 L182.6,149.6 L172.1,150.2 L165.0,147.3Z"/>
<path class="n" d="M175.6,130.8 L182.6,128.5 L192.1,127.3 L200.3,126.7 L201.5,129.1 L199.1,132.0 L192.1,133.2 L183.8,133.8 L177.9,133.2Z"/>
<path class="n" d="M205.0,130.8 L212.1,129.1 L220.3,128.5 L230.9,129.1 L237.9,131.4 L236.8,133.8 L228.5,134.4 L220.3,134.9 L212.1,134.4 L206.2,133.2Z"/>
<path class="n" d="M209.7,153.8 L216.8,151.4 L220.3,154.9 L217.9,159.6 L212.1,160.8Z"/>
<path class="n" d="M214.4,136.7 L217.9,136.1 L218.5,141.4 L216.8,147.3 L213.8,148.5 L212.6,144.4 L213.2,139.6Z"/>
<path class="n" d="M209.0,157.0 L219.0,155.0 L220.0,159.0 L213.0,161.0Z"/>
<path class="c" fill="#9a0026" d="M105.6,237.6 L112.0,236.6 L116.0,239.0 L120.0,240.4 L126.0,239.0 L131.0,241.0 L132.0,245.0 L138.0,244.0 L140.0,248.0 L143.0,253.0 L145.0,254.0 L143.6,260.0 L143.0,265.0 L145.0,270.0 L149.0,273.6 L155.0,272.0 L159.0,267.0 L166.0,266.0 L167.2,268.0 L165.2,273.0 L163.4,273.4 L160.0,275.2 L155.8,275.2 L155.2,278.8 L152.8,280.6 L152.4,282.8 L147.6,280.0 L142.8,281.2 L137.0,278.8 L130.0,275.2 L125.0,271.2 L123.6,268.0 L125.0,264.0 L122.0,260.0 L119.0,255.0 L117.0,250.0 L114.4,244.0 L113.0,240.0 L110.4,239.0 L109.2,244.0 L111.2,249.0 L114.0,255.0 L116.6,262.0 L115.0,262.6 L112.0,257.0 L109.2,252.0 L106.8,249.2 L108.0,246.0 L106.0,242.0Z"/>
<path class="c" fill="#800026" d="M152.4,282.9 L152.9,280.6 L155.3,278.8 L155.9,275.3 L160.0,275.3 L160.0,279.4 L161.8,280.6 L160.0,282.4 L158.2,284.7 L157.1,285.9 L154.1,285.3Z"/>
<path class="c" fill="#800026" d="M160.0,282.4 L161.8,280.6 L165.3,280.6 L170.0,280.6 L172.9,282.4 L169.4,284.1 L166.5,285.3 L164.7,287.6 L162.9,287.1 L161.2,287.6 L158.2,286.5 L157.1,285.9 L158.2,284.7Z"/>
<path class="n" d="M160.0,275.3 L160.8,274.4 L163.5,273.5 L163.3,277.6 L161.8,280.6 L160.0,279.4Z"/>
<path class="n" d="M164.7,287.6 L166.5,285.3 L169.4,284.1 L172.9,282.4 L172.4,287.1 L170.6,292.9 L166.5,292.9 L163.5,289.4Z"/>
<path class="cl" fill="#fc4e2a" d="M166.5,292.9 L170.6,293.5 L171.8,295.3 L172.9,298.2 L172.4,300.6 L170.6,299.4 L169.4,297.1 L167.6,296.5 L165.9,294.7Z"/>
<path class="c" fill="#9a0026" d="M172.4,300.6 L172.9,298.2 L175.3,298.8 L177.6,299.4 L180.0,297.6 L182.4,297.6 L184.7,299.4 L185.3,302.4 L183.5,302.4 L182.4,300.0 L180.6,299.4 L178.8,301.2 L178.2,302.9 L176.5,301.8 L174.7,300.6Z"/>
<path class="c" fill="#9a0026" d="M185.1,274.1 L187.6,273.5 L190.0,274.7 L188.2,275.6 L185.5,275.3Z"/>
<path class="n" d="M193.5,272.9 L200.0,272.4 L200.0,274.7 L195.9,274.7 L194.1,274.1Z"/>
<path class="c" fill="#9a0026" d="M200.0,271.2 L202.4,270.0 L205.3,271.8 L207.6,273.5 L204.1,274.1 L201.8,274.7 L200.2,275.9 L200.0,272.9Z"/>
<path class="n" d="M210.0,273.5 L213.5,273.5 L213.5,275.1 L210.2,275.1Z"/>
<path class="n" d="M171.2,263.5 L174.7,261.8 L180.6,261.4 L186.5,263.5 L191.2,266.5 L194.7,268.8 L194.1,270.0 L189.4,268.8 L185.3,266.5 L181.8,264.7 L177.1,263.5 L173.5,264.7Z"/>
<path class="c" fill="#bd0026" d="M243.7,310.5 L245.1,312.6 L247.2,316.8 L247.2,319.7 L246.5,321.8 L250.7,323.2 L255.0,324.6 L259.9,328.2 L264.9,328.9 L270.6,329.6 L274.8,332.4 L279.1,335.2 L281.9,337.4 L282.6,340.9 L281.9,345.2 L279.1,350.8 L275.5,355.8 L274.8,360.7 L274.1,366.3 L272.7,372.0 L271.3,377.0 L268.4,381.2 L263.5,382.6 L258.5,384.7 L255.0,389.0 L254.7,392.5 L255.0,396.1 L252.9,400.3 L250.0,403.9 L247.2,408.1 L246.5,410.2 L243.7,406.0 L240.1,403.2 L236.6,401.0 L240.1,396.1 L242.9,392.1 L242.9,389.7 L240.5,389.0 L240.8,385.5 L239.4,383.3 L237.3,381.2 L235.2,380.5 L232.3,376.2 L231.6,372.7 L232.3,369.2 L230.2,365.6 L225.9,363.5 L223.8,358.5 L219.6,355.7 L218.2,354.4 L213.2,352.2 L211.8,348.0 L206.1,349.4 L201.9,350.1 L200.5,348.7 L196.2,346.6 L194.1,343.7 L193.4,339.5 L195.5,335.2 L199.7,332.4 L201.2,328.9 L201.9,325.3 L201.9,320.4 L202.9,317.5 L208.0,317.1 L210.4,319.7 L212.5,318.2 L214.6,315.4 L215.3,311.9 L218.2,310.5 L221.7,309.7 L223.1,308.3 L223.1,311.9 L224.5,314.7 L225.9,318.2 L228.8,318.2 L232.3,316.1 L234.4,315.4 L237.7,314.7 L239.4,316.1 L241.5,314.0Z"/>
<path class="c" fill="#9a0026" d="M184.9,299.1 L186.3,296.3 L189.8,293.5 L194.8,292.0 L199.0,289.6 L200.0,290.6 L198.3,292.7 L196.2,294.2 L195.5,297.7 L197.6,301.2 L200.5,302.7 L203.3,305.5 L206.8,306.2 L207.5,310.5 L207.1,314.7 L208.0,317.1 L202.9,317.5 L201.9,320.4 L201.9,325.3 L201.2,328.9 L199.0,328.2 L195.5,326.7 L192.7,323.9 L189.8,321.8 L187.0,321.1 L182.0,319.0 L182.0,315.4 L184.2,312.6 L184.9,308.3 L184.2,304.8 L185.6,302.0Z"/>
<path class="c" fill="#800026" d="M200.0,290.6 L201.9,291.3 L202.9,290.6 L205.4,292.7 L209.0,294.2 L213.9,294.9 L218.9,294.2 L221.7,294.9 L223.8,297.7 L224.5,300.5 L222.4,303.4 L221.7,306.2 L223.1,308.3 L221.7,309.7 L218.2,310.5 L215.3,311.9 L214.6,315.4 L212.5,318.2 L210.4,319.7 L208.0,317.1 L207.1,314.7 L207.5,310.5 L206.8,306.2 L203.3,305.5 L200.5,302.7 L197.6,301.2 L195.5,297.7 L196.2,294.2 L198.3,292.7Z"/>
<path class="c" fill="#fff" d="M198.0,294.2 L199.3,294.2 L199.7,296.3 L198.3,298.1 L197.3,296.7Z"/>
<path class="c" fill="#bd0026" d="M224.5,300.5 L226.7,302.0 L229.5,305.5 L230.9,307.6 L229.5,310.5 L230.2,313.3 L232.3,316.1 L228.8,318.2 L225.9,318.2 L224.5,314.7 L223.1,311.9 L223.1,308.3 L221.7,306.2 L222.4,303.4Z"/>
<path class="c" fill="#9a0026" d="M230.9,307.6 L234.4,306.6 L238.0,307.2 L238.7,309.0 L237.3,311.9 L237.7,314.7 L234.4,315.4 L232.3,316.1 L230.2,313.3 L229.5,310.5Z"/>
<path class="n" d="M238.7,307.6 L241.5,307.6 L243.7,310.5 L241.5,314.0 L239.4,316.1 L237.7,314.7 L237.3,311.9 L238.7,309.0Z"/>
<path class="c" fill="#800026" d="M182.0,319.0 L187.0,321.1 L189.8,321.8 L189.8,323.9 L187.7,326.7 L184.9,330.3 L182.0,333.8 L179.2,334.5 L177.1,333.1 L178.5,328.9 L176.4,326.7 L177.1,322.5 L179.9,319.7Z"/>
<path class="c" fill="#800026" d="M177.1,333.1 L179.2,334.5 L182.0,333.8 L184.9,330.3 L187.7,326.7 L189.8,323.9 L192.7,323.9 L195.5,326.7 L199.0,328.2 L201.2,328.9 L199.7,332.4 L195.5,335.2 L193.4,339.5 L194.1,343.7 L196.2,346.6 L200.5,348.7 L201.9,350.1 L204.0,350.8 L204.7,355.2 L204.0,360.7 L205.4,365.6 L204.0,369.2 L203.3,369.2 L198.3,365.6 L191.2,360.7 L187.0,355.0 L191.2,362.2 L187.7,357.2 L183.5,349.4 L179.9,342.3 L176.4,338.1 L175.7,333.8Z"/>
<path class="c" fill="#800026" d="M204.0,350.8 L201.9,350.1 L206.1,349.4 L211.8,348.0 L213.2,352.2 L218.2,354.4 L219.6,355.7 L223.8,358.5 L225.9,363.5 L230.2,365.6 L232.3,369.2 L231.6,372.7 L226.7,372.7 L223.1,374.1 L221.7,377.7 L222.4,381.2 L218.9,380.2 L215.3,379.8 L212.5,381.2 L210.4,381.9 L209.0,377.7 L206.1,372.7 L204.0,369.2 L205.4,365.6 L204.0,360.7 L204.7,355.2Z"/>
<path class="c" fill="#800026" d="M223.1,374.1 L226.7,372.7 L231.6,372.7 L232.3,376.2 L235.2,380.5 L237.3,381.2 L239.4,383.3 L240.8,385.5 L240.5,389.0 L238.7,392.5 L235.9,393.5 L233.0,393.2 L233.5,389.0 L229.5,385.5 L224.5,382.6 L222.4,381.2 L221.7,377.7Z"/>
<path class="cl" fill="#fc4e2a" d="M236.6,401.0 L240.1,403.2 L243.7,406.0 L246.5,410.2 L244.4,412.8 L240.1,413.1 L236.6,411.7 L235.2,408.8 L235.4,404.6Z"/>
<path class="cl" fill="#fc4e2a" d="M210.4,381.9 L212.5,381.2 L215.3,379.8 L218.9,380.2 L222.4,381.2 L224.5,382.6 L229.5,385.5 L233.5,389.0 L233.0,393.2 L235.9,393.5 L238.7,392.5 L240.5,389.0 L242.9,389.7 L242.9,392.1 L240.1,396.1 L236.6,401.0 L235.4,404.6 L235.2,408.8 L236.6,411.7 L238.7,413.1 L243.0,413.0 L240.0,415.0 L240.5,419.0 L238.0,422.0 L234.0,423.5 L231.0,424.0 L230.5,428.5 L228.5,429.0 L226.0,429.5 L227.5,431.5 L229.5,433.0 L227.0,435.0 L227.5,439.0 L225.0,440.0 L224.5,443.0 L227.0,444.0 L229.0,446.0 L228.0,449.5 L226.5,452.5 L225.5,454.5 L227.5,457.0 L225.5,457.0 L222.0,456.0 L218.5,453.0 L216.5,449.0 L216.0,443.0 L215.0,437.0 L213.0,432.0 L211.5,427.0 L211.0,421.0 L210.0,415.0 L210.5,410.0 L210.4,417.3 L209.7,410.2 L207.5,403.2 L208.2,396.1 L209.0,387.6Z"/>
<path class="cl" fill="#fc4e2a" d="M228.5,459.0 L231.0,461.5 L234.5,463.5 L237.0,464.0 L236.5,465.0 L234.0,464.5 L230.0,462.5 L228.0,460.5Z"/>
<path class="cl" fill="#fd8d3c" d="M203.3,369.2 L204.0,369.2 L206.1,372.7 L209.0,377.7 L210.4,381.9 L209.0,387.6 L208.2,396.1 L207.5,403.2 L209.7,410.2 L210.4,417.3 L210.5,410.0 L210.0,415.0 L211.0,421.0 L211.5,427.0 L213.0,432.0 L215.0,437.0 L216.0,443.0 L216.5,449.0 L218.5,453.0 L222.0,456.0 L225.5,457.0 L226.0,458.0 L228.5,459.0 L228.0,460.5 L230.0,462.5 L234.0,464.5 L236.5,465.0 L234.5,465.2 L232.0,466.0 L228.0,464.5 L223.0,462.0 L219.0,460.0 L215.0,456.5 L212.0,452.5 L210.0,448.5 L210.5,444.0 L208.5,443.5 L209.5,441.5 L209.0,438.5 L210.5,436.0 L209.8,433.0 L208.0,434.5 L207.0,429.0 L206.2,424.0 L204.8,420.0 L205.0,415.0 L206.5,410.0 L204.7,419.4 L205.4,411.7 L204.7,404.6 L204.0,396.1 L204.7,387.6 L204.0,377.7Z"/>
<path class="c" fill="#800026" d="M417.8,239.0 L423.5,240.4 L429.2,239.7 L434.8,240.4 L439.1,241.5 L436.8,240.9 L439.1,240.3 L440.6,245.6 L439.4,249.5 L437.9,247.9 L437.5,246.2 L440.4,252.6 L443.9,259.0 L446.0,264.0 L447.5,268.9 L449.6,274.6 L448.2,276.7 L446.7,278.8 L447.5,284.5 L451.7,284.5 L455.9,287.3 L459.5,291.6 L461.6,291.6 L462.3,292.3 L466.6,293.0 L473.7,291.6 L480.0,290.2 L480.3,294.4 L478.6,300.1 L475.1,305.7 L478.6,300.0 L477.2,305.7 L472.2,312.0 L466.6,317.0 L460.9,322.7 L458.1,326.2 L455.9,330.5 L453.1,334.7 L452.7,339.7 L453.8,343.9 L454.5,348.9 L455.9,353.8 L455.8,355.6 L455.1,361.2 L451.5,365.5 L446.6,369.0 L442.3,373.3 L441.6,376.8 L443.0,381.1 L442.3,384.6 L438.8,387.5 L436.7,388.9 L436.4,391.7 L436.4,393.8 L434.5,396.7 L431.0,402.3 L426.7,406.6 L421.1,409.4 L414.0,410.8 L408.3,411.5 L405.5,412.5 L402.7,410.1 L403.4,405.9 L402.0,400.9 L400.5,395.9 L397.7,389.6 L394.9,381.8 L392.7,374.7 L390.6,369.7 L389.6,366.9 L389.6,364.1 L390.6,359.1 L393.5,354.2 L394.9,349.9 L393.5,345.7 L392.9,338.1 L392.2,337.4 L400.7,337.7 L402.8,341.7 L407.7,342.4 L412.0,340.9 L413.4,347.3 L414.2,349.6 L417.7,350.3 L421.2,351.7 L426.2,353.1 L430.5,356.7 L430.5,354.5 L428.3,352.4 L429.0,345.3 L431.9,344.6 L434.0,343.9 L432.6,339.7 L431.2,334.0 L430.5,329.0 L431.2,324.8 L433.3,318.4 L434.7,312.7 L442.5,312.0 L443.9,307.1 L442.5,305.7 L440.4,301.5 L442.5,292.3 L441.1,295.1 L439.0,290.2 L437.5,291.6 L435.4,295.1 L430.5,295.8 L426.2,297.2 L420.5,295.8 L417.7,298.7 L414.9,292.3 L411.3,295.8 L409.2,297.7 L403.5,300.6 L398.5,303.4 L396.4,308.4 L397.1,313.3 L399.2,316.9 L389.3,316.9 L385.1,316.4 L385.1,316.2 L384.4,313.3 L382.9,310.5 L380.1,311.2 L375.9,310.5 L372.3,306.2 L369.5,306.0 L366.7,306.2 L362.4,307.7 L358.2,309.4 L352.5,309.1 L347.5,309.8 L344.7,310.5 L340.5,307.7 L336.2,304.1 L332.7,300.6 L332.0,298.5 L334.8,296.3 L337.6,296.3 L340.5,299.2 L341.9,302.7 L344.0,299.9 L343.3,292.8 L340.5,290.7 L333.4,289.2 L329.1,292.8 L327.7,292.3 L324.9,290.2 L324.2,287.3 L323.5,283.1 L325.6,278.1 L326.3,271.7 L324.9,266.1 L330.0,265.9 L332.8,265.9 L333.5,261.7 L336.4,260.9 L336.4,253.9 L343.5,251.0 L371.1,271.9 L390.2,260.9 L396.6,262.4 L416.4,270.2 L419.2,269.4 L419.2,264.5 L418.5,251.7Z"/>
<path class="n" d="M324.9,266.1 L324.9,265.4 L327.7,259.0 L331.2,253.3 L334.8,249.8 L338.3,247.7 L341.2,243.4 L341.9,238.5 L345.4,233.5 L348.4,230.5 L351.2,228.8 L358.3,227.7 L359.7,229.8 L360.5,235.5 L355.5,238.3 L351.2,241.1 L345.6,244.0 L343.5,246.1 L343.5,251.0 L336.4,253.9 L336.4,260.9 L333.5,261.7 L332.8,265.9 L330.0,265.9Z"/>
<path class="n" d="M359.7,229.8 L366.8,226.2 L373.9,225.5 L380.3,225.5 L380.3,229.1 L379.6,234.0 L382.4,237.6 L384.5,242.5 L385.2,251.7 L387.4,257.4 L390.2,260.9 L371.1,271.9 L343.5,251.0 L343.5,246.1 L345.6,244.0 L351.2,241.1 L355.5,238.3 L360.5,235.5Z"/>
<path class="n" d="M388.1,236.9 L393.0,236.9 L398.0,239.7 L403.7,242.5 L407.2,239.0 L409.3,237.3 L413.6,236.9 L417.8,239.0 L418.5,251.7 L419.2,264.5 L419.2,269.4 L416.4,270.2 L396.6,262.4 L390.2,260.9 L387.4,257.4 L385.2,251.7 L384.5,242.5 L385.2,239.7 L387.4,237.6Z"/>
<path class="c" fill="#bd0026" d="M381.0,225.8 L382.2,224.8 L384.0,224.5 L385.5,225.5 L386.5,225.2 L386.2,226.2 L385.8,227.2 L386.5,228.5 L386.8,230.0 L385.8,231.5 L385.2,232.8 L386.5,234.0 L387.8,235.0 L388.2,236.5 L387.5,238.0 L386.0,239.0 L385.0,240.5 L384.8,242.2 L384.0,242.8 L383.5,241.0 L383.0,239.0 L381.8,237.5 L380.2,235.8 L379.2,234.2 L379.8,232.8 L381.0,231.5 L381.2,229.5 L380.8,227.5Z"/>
<path class="n" d="M329.1,292.8 L333.4,289.2 L340.5,290.7 L343.3,292.8 L344.0,299.9 L341.9,302.7 L340.5,299.2 L337.6,296.3 L334.8,296.3 L332.0,298.5 L329.8,294.9Z"/>
<path class="l" d="M324.9,286.5 L331.2,286.2 L331.2,286.9 L324.9,287.0"/>
<path class="n" d="M385.1,316.4 L389.3,316.9 L399.2,316.9 L397.1,313.3 L396.4,308.4 L398.5,303.4 L403.5,300.6 L409.2,297.7 L411.3,295.8 L414.9,292.3 L417.7,298.7 L420.5,295.8 L426.2,297.2 L430.5,295.8 L435.4,295.1 L437.5,291.6 L439.0,290.2 L441.1,295.1 L442.5,292.3 L440.4,301.5 L442.5,305.7 L443.9,307.1 L442.5,312.0 L434.7,312.7 L433.3,318.4 L431.2,324.8 L430.5,329.0 L431.2,334.0 L432.6,339.7 L434.0,343.9 L431.9,344.6 L429.0,345.3 L428.3,352.4 L430.5,354.5 L430.5,356.7 L426.2,353.1 L421.2,351.7 L417.7,350.3 L414.2,349.6 L413.4,347.3 L412.0,340.9 L407.7,342.4 L402.8,341.7 L400.7,337.7 L392.2,337.4 L390.7,335.3 L388.6,333.2 L385.1,328.9 L382.9,324.7 L383.7,319.0Z"/>
<path class="nl" d="M382.9,320.4 L389.3,320.4 L395.7,319.0 L395.0,327.5 L390.7,330.3 L388.6,333.2 M395.7,319.0 L403.5,318.3 L404.2,312.6 L409.2,310.5 L414.8,309.1 L420.5,306.2 L426.1,308.4 L430.0,306.2 M390.7,335.3 L395.0,331.7 L400.7,326.1 L403.5,318.3 M414.9,292.3 L417.0,301.5 L421.2,306.4 L426.9,310.0 M400.0,300.0 L408.5,305.0 L419.8,308.5 L428.3,310.6 L434.7,312.7"/>
<path class="c" fill="#800026" d="M390.7,333.9 L392.2,334.6 L392.2,337.1 L391.0,336.3Z"/>
<path class="n" d="M448.2,276.7 L450.3,275.3 L453.1,280.2 L456.7,285.2 L460.2,289.4 L461.6,291.6 L459.5,291.6 L455.9,287.3 L451.7,284.5 L447.5,284.5 L446.7,278.8Z"/>
<path class="c" fill="#bd0026" d="M459.5,290.9 L461.2,289.9 L462.3,292.3 L460.2,293.0Z"/>
<path class="c" fill="#fff" d="M439.4,346.7 L441.1,347.5 L441.8,353.8 L443.2,358.1 L444.6,361.6 L443.2,365.2 L441.8,362.3 L440.4,358.1 L439.0,353.8 L438.5,348.9Z"/>
<path class="c" fill="#9a0026" d="M389.6,366.9 L397.0,367.6 L404.8,368.0 L410.5,368.3 L417.5,367.6 L418.2,369.0 L410.5,369.7 L410.0,378.2 L408.3,381.1 L408.3,387.5 L409.0,389.6 L407.6,394.5 L406.2,397.4 L402.7,396.7 L400.5,395.9 L397.7,389.6 L394.9,381.8 L392.7,374.7 L390.6,369.7Z"/>
<path class="cl" fill="#feb24c" d="M400.5,395.9 L402.7,396.7 L406.2,397.4 L407.6,394.5 L409.0,389.6 L410.5,391.0 L413.3,389.6 L416.1,388.9 L419.7,388.2 L422.5,385.3 L425.3,382.5 L428.9,380.4 L431.7,379.9 L433.8,381.1 L434.5,385.3 L435.2,388.9 L436.7,391.7 L436.4,393.8 L434.5,396.7 L431.0,402.3 L426.7,406.6 L421.1,409.4 L414.0,410.8 L408.3,411.5 L405.5,412.5 L402.7,410.1 L403.4,405.9 L402.0,400.9Z"/>
<path class="c" fill="#800026" d="M423.2,398.8 L426.0,396.7 L428.2,398.8 L425.3,402.0Z"/>
<path class="cl" fill="#fc4e2a" d="M432.1,389.6 L433.8,388.9 L435.0,391.3 L433.1,393.1 L431.7,391.7Z"/>
<path class="c" fill="#800026" d="M474.9,353.5 L477.7,357.7 L477.7,361.2 L475.6,366.9 L473.5,372.6 L470.7,379.7 L467.8,385.3 L465.0,388.9 L462.2,387.5 L460.7,382.5 L461.4,378.2 L463.6,373.3 L464.3,367.6 L467.1,364.1 L472.1,357.7Z"/>
<path class="c" fill="#800026" d="M461.9,352.0 L462.6,352.0 L462.6,352.7 L461.9,352.7ZM463.9,353.4 L464.6,353.4 L464.6,354.1 L463.9,354.1Z"/>
<path class="c" fill="#9a0026" d="M492.4,374.5 L493.2,374.5 L493.2,375.5 L492.4,375.5Z"/>
<path class="c" fill="#9a0026" d="M490.2,334.1 L490.8,334.1 L490.8,334.7 L490.2,334.7Z"/>
<path class="c" fill="#9a0026" d="M305.4,277.4 L306.2,277.4 L306.2,278.2 L305.4,278.2ZM310.2,278.4 L311.0,278.4 L311.0,279.6 L310.2,279.6ZM307.6,282.6 L309.2,282.4 L309.2,283.0 L307.6,283.2Z"/>
<path class="l" d="M349.0,256.4 L350.4,257.6 L351.1,280.9 L337.6,281.7 L336.2,283.1 L331.2,279.5 L327.0,279.5 L325.6,278.5 M336.2,283.1 L336.9,288.0 L334.8,290.2 L329.8,289.4 L324.9,290.2 M329.8,289.4 L329.1,292.7 M337.6,281.7 L339.0,287.3 L344.0,289.4 L344.7,291.6 L348.2,291.6 L351.1,292.3 L352.5,289.4 L355.3,286.6 L359.6,283.1 L364.5,282.4 L370.9,280.9 L372.3,279.5 L372.3,272.0 M396.4,261.5 L398.5,271.7 L398.5,278.8 L395.0,283.1 L394.3,286.6 L389.3,287.3 L383.7,288.0 L378.0,287.3 L373.0,285.9 L372.3,288.0 L370.9,289.4 L365.9,288.7 L363.1,284.5 L364.5,282.4 M344.7,291.6 L345.4,295.1 L351.1,294.4 L356.7,293.7 L363.8,293.0 L366.7,291.6 L365.9,288.7 M356.7,293.7 L355.3,301.5 L356.0,308.6 M363.8,293.0 L364.5,304.3 L365.2,308.6 M366.7,292.3 L366.7,307.9 M370.9,289.4 L370.2,298.7 L369.5,307.2 M394.3,286.6 L396.4,290.2 L395.0,294.4 L392.2,300.1 L387.9,303.6 L384.4,305.7 L382.9,309.3 M396.4,290.2 L398.5,295.8 L395.7,300.1 L400.7,302.2 M344.0,299.9 L345.4,304.8 L344.7,310.5 M341.9,302.7 L338.3,301.3 L336.2,304.1 M345.4,304.8 L349.0,300.6 L351.1,295.6 M419.8,264.4 L446.0,264.4 M419.8,269.6 L417.7,270.3 L417.7,279.5 L414.9,281.7 L413.5,287.3 L414.9,291.6 M442.5,292.3 L443.9,288.7 L446.0,284.5 L447.5,284.5 M460.2,293.0 L462.3,295.8 L466.6,298.7 L472.9,301.5 L469.4,305.7 L464.4,308.6 L459.5,310.0 M443.9,307.1 L448.2,310.6 L453.8,312.0 L459.5,311.3 L465.2,308.5 L469.4,305.0 L472.9,301.4 M442.5,312.0 L443.9,317.0 L441.8,323.4 L434.0,324.8 M441.8,323.4 L448.2,327.6 L454.5,333.3 M457.4,312.0 L458.1,325.5 M434.0,324.8 L430.9,325.5 L430.5,329.0 L433.7,333.3 L431.9,329.0 L434.0,327.6 M434.0,343.9 L438.2,346.0 L439.7,347.5 M443.2,352.4 L449.6,351.7 L454.5,349.6 M412.6,356.3 L417.5,351.3 L422.5,352.7 L428.2,354.2 L430.3,356.3 M412.6,356.3 L413.3,362.7 L414.7,367.6 M438.1,346.4 L438.8,354.2 L437.4,358.4 L432.4,359.8 L429.6,362.7 L425.3,366.9 L420.4,369.0 L417.5,368.3 M429.6,362.7 L434.5,363.4 L437.4,365.5 L437.8,372.6 L435.9,376.8 L433.8,379.7 L431.7,379.9 M420.4,369.0 L422.5,372.6 L426.0,377.5 L428.9,380.4 M437.4,358.4 L442.3,361.2 L443.0,364.8 M441.6,354.2 L446.6,352.7 L455.1,349.9 M412.0,340.9 L412.7,351.6 L417.6,350.9 M412.7,351.6 L413.4,364.3 L415.5,367.9"/>
<path class="c" fill="#9a0026" d="M420.0,217.0 L423.0,215.0 L427.0,214.0 L431.0,213.0 L435.0,212.5 L439.0,213.0 L444.0,214.5 L449.0,214.0 L452.5,214.0 L455.0,215.5 L457.0,218.0 L458.5,221.0 L457.5,223.5 L459.0,225.5 L455.0,224.5 L451.0,226.0 L446.0,226.5 L441.0,227.5 L437.0,227.0 L433.0,225.5 L429.0,226.5 L425.0,226.0 L421.5,223.5 L420.0,220.5Z"/>
<path class="c" fill="#800026" d="M447.4,209.1 L452.1,209.7 L456.8,211.5 L460.3,213.2 L459.7,214.4 L457.4,214.4 L454.4,214.2 L450.3,213.5 L449.1,210.9Z"/>
<path class="c" fill="#800026" d="M455.0,214.6 L457.9,214.4 L460.3,216.2 L462.1,219.1 L462.4,220.3 L460.3,219.7 L458.5,218.2 L457.4,216.2Z"/>
<path class="cl" fill="#ffffcc" d="M433.0,230.3 L435.0,229.1 L437.4,229.1 L436.2,230.9 L433.8,231.5Z"/>
<path class="c" fill="#800026" d="M440.9,231.8 L442.4,231.1 L442.6,233.2 L441.5,235.8 L440.3,235.4Z"/>
<path class="c" fill="#800026" d="M453.8,225.0 L459.1,224.1 L460.3,226.8 L462.6,229.7 L462.1,232.6 L465.0,236.2 L467.9,239.7 L469.7,243.2 L466.8,244.4 L463.2,245.6 L459.1,242.6 L455.0,239.1 L451.5,237.9 L448.5,236.8 L448.5,234.6 L451.5,232.1 L453.2,228.5Z"/>
<path class="c" fill="#800026" d="M442.6,237.4 L445.6,236.4 L448.5,235.0 L448.5,237.0 L444.4,239.1 L445.6,242.1 L443.2,244.4 L440.9,245.6 L440.9,240.3 L441.5,237.9Z"/>
<path class="c" fill="#800026" d="M460.9,278.1 L465.9,276.7 L470.8,277.4 L475.1,273.9 L480.0,272.5 L483.6,278.1 L481.4,280.9 L476.5,283.1 L470.8,285.2 L466.6,287.3 L463.0,288.7 L461.6,284.5Z"/>
<path class="c" fill="#800026" d="M496.4,231.2 L500.6,228.4 L504.2,225.5 L509.1,224.8 L512.7,225.5 L515.5,222.0 L516.2,224.1 L518.3,226.2 L521.9,224.8 L524.7,224.1 L528.2,226.2 L532.5,229.8 L535.3,233.3 L536.7,236.2 L535.3,238.3 L539.6,242.5 L543.1,242.5 L545.9,244.0 L550.9,246.8 L555.9,248.9 L560.1,249.2 L560.5,252.5 L568.2,252.5 L568.8,248.6 L570.7,246.8 L575.0,245.8 L578.5,247.5 L579.9,248.9 L578.5,251.7 L575.7,255.3 L575.0,259.5 L572.9,263.1 L571.4,261.7 L570.7,263.8 L568.6,262.4 L567.2,264.5 L564.4,264.5 L563.7,263.1 L562.2,263.1 L559.4,267.3 L555.2,271.6 L550.9,276.5 L547.4,280.8 L545.9,284.3 L545.5,290.0 L545.0,295.9 L542.0,300.3 L539.6,297.1 L536.0,290.0 L532.5,284.3 L529.7,277.2 L527.5,271.6 L527.1,267.3 L524.0,267.3 L520.5,265.2 L517.6,259.5 L513.4,256.7 L508.4,256.0 L501.3,256.3 L503.5,252.5 L500.6,248.9 L498.5,245.4 L499.2,241.8 L497.1,238.3 L495.7,234.0Z"/>
<path class="l" d="M524.7,224.1 L520.5,226.2 L517.6,229.1 L516.9,234.0 L514.8,238.3 L509.8,240.4 L508.4,244.0 L504.2,245.4 L498.5,245.4 M524.7,227.7 L524.0,231.9 L528.2,235.5 L527.5,240.4 L524.0,246.1 L519.0,250.3 L518.3,251.7 L520.5,253.9 L521.9,258.1 L517.6,259.5 M543.1,242.5 L541.0,246.1 L546.7,249.6 L553.7,252.5 L560.1,253.2 L560.1,249.6 M560.8,253.2 L563.7,253.9 L567.2,255.3 L570.0,256.0 L570.7,259.5 L571.4,261.7 M560.8,253.2 L561.5,257.4 L562.9,261.7 L563.7,263.4"/>
<path class="c" fill="#800026" d="M546.0,297.0 L549.0,296.0 L551.0,300.0 L551.0,305.0 L548.0,306.4 L546.0,303.0Z"/>
<path class="c" fill="#bd0026" d="M512.7,211.4 L518.3,209.5 L525.4,210.7 L531.4,210.9 L528.2,214.2 L523.3,215.2 L520.5,219.2 L516.2,219.2 L512.7,217.7 L509.8,218.5 L511.2,215.6 L514.8,214.2Z"/>
<path class="n" d="M511.2,214.6 L516.2,213.8 L516.9,216.3 L512.7,217.5Z"/>
<path class="c" fill="#bd0026" d="M507.7,219.2 L511.2,216.6 L513.4,218.5 L516.2,219.4 L520.5,219.4 L523.3,222.0 L524.7,224.1 L521.9,224.8 L518.3,226.2 L516.2,224.1 L515.5,222.0 L512.7,225.5 L509.1,224.8Z"/>
<path class="c" fill="#800026" d="M591.0,266.0 L593.4,263.4 L597.6,262.0 L600.5,261.3 L603.3,262.0 L606.1,264.8 L605.4,266.2 L603.3,268.4 L604.0,271.9 L606.1,275.5 L609.7,279.7 L612.5,284.7 L613.2,288.9 L611.8,292.5 L608.2,295.3 L605.4,298.1 L604.0,298.8 L604.0,296.0 L601.9,293.9 L599.0,292.5 L597.6,289.6 L596.2,288.2 L594.1,287.5 L592.7,288.2 L591.2,291.7 L591.2,297.4 L593.4,300.9 L596.2,304.5 L597.6,305.9 L594.8,305.9 L591.2,301.7 L589.1,299.5 L588.4,293.9 L589.1,290.3 L588.4,285.4 L586.3,278.3 L583.0,274.0 L584.4,270.8 L587.3,268.4Z"/>
<path class="c" fill="#9a0026" d="M579.9,248.9 L582.1,249.6 L583.5,253.9 L582.8,258.1 L586.3,260.9 L589.2,264.5 L591.3,265.9 L587.7,268.0 L585.6,270.9 L584.9,274.4 L586.3,278.7 L584.2,279.4 L583.5,276.5 L581.4,280.1 L578.5,280.8 L577.1,275.8 L576.4,271.6 L573.6,267.3 L572.2,265.2 L570.7,263.8 L571.4,261.7 L572.9,263.1 L575.0,259.5 L575.7,255.3 L578.5,251.7Z"/>
<path class="l" d="M592.0,267.0 L594.1,270.5 L597.6,269.8 L600.5,273.3 L603.3,276.9 L605.4,282.5 L608.2,285.4 L609.0,288.9 L606.1,291.0 L604.0,296.0 M594.1,270.5 L592.7,274.0 L594.8,276.9 L599.7,275.5 L602.6,279.0 L603.3,284.0 L598.3,285.4 L596.9,288.2 M603.3,284.0 L608.2,285.4"/>
<path class="n" d="M594.8,305.9 L597.6,305.9 L600.5,308.0 L602.6,313.0 L604.0,317.9 L601.9,318.7 L599.0,315.8 L596.2,312.3 L594.1,308.7Z"/>
<path class="c" fill="#800026" d="M582.5,308.2 L587.7,308.8 L592.0,313.5 L596.2,318.4 L600.5,322.7 L604.0,326.9 L607.5,329.7 L607.1,335.4 L604.7,337.5 L601.9,334.7 L597.6,329.7 L593.4,322.7 L589.8,315.6 L585.6,311.3Z"/>
<path class="c" fill="#800026" d="M606.1,337.5 L611.1,338.2 L616.7,339.7 L621.7,341.1 L625.9,341.8 L628.8,343.2 L627.4,344.6 L621.0,343.2 L614.6,342.5 L608.2,341.1 L605.4,339.4Z"/>
<path class="c" fill="#800026" d="M631.5,344.5 L636.6,343.5 L637.0,344.3 L632.3,345.3ZM638.3,344.1 L645.5,343.5 L645.5,344.6 L639.4,345.0ZM636.9,347.0 L639.8,347.6 L639.8,348.4 L637.1,348.0ZM646.9,347.7 L651.7,344.6 L655.4,343.9 L654.7,344.9 L650.7,347.0 L647.5,348.7Z"/>
<path class="n" d="M616.0,317.7 L619.6,314.2 L624.5,310.6 L627.4,309.2 L630.2,306.4 L632.3,304.0 L634.4,304.5 L637.3,307.8 L635.2,309.9 L633.0,310.6 L630.2,311.3 L625.9,314.9 L621.0,317.7 L617.5,316.7Z"/>
<path class="c" fill="#800026" d="M614.6,318.4 L617.5,316.7 L621.0,317.7 L625.9,314.9 L630.2,311.3 L633.0,310.6 L634.4,314.2 L635.2,317.7 L636.6,319.1 L634.4,321.2 L632.3,326.2 L630.9,330.5 L628.8,332.3 L625.9,330.5 L621.7,329.7 L618.2,329.0 L616.0,325.5 L614.2,322.0Z"/>
<path class="cl" fill="#fc4e2a" d="M626.4,309.2 L628.1,307.8 L628.8,309.9 L627.4,311.3Z"/>
<path class="c" fill="#800026" d="M639.4,321.2 L642.2,319.1 L647.2,319.1 L652.2,317.3 L651.4,319.8 L647.2,321.2 L643.7,322.0 L642.9,323.4 L647.2,324.1 L647.9,325.5 L643.7,326.9 L645.8,331.2 L647.2,335.4 L645.1,336.8 L642.9,331.9 L641.5,328.3 L640.8,331.9 L640.1,336.5 L638.0,336.1 L637.7,330.5 L638.0,325.5Z"/>
<path class="c" fill="#800026" d="M657.1,317.0 L659.2,316.7 L659.9,321.2 L659.0,324.1 L657.5,321.2ZM653.6,330.0 L655.7,329.7 L655.7,331.4 L653.6,331.4ZM657.8,329.5 L663.5,329.0 L664.2,330.9 L658.5,330.9ZM671.3,336.1 L673.4,336.8 L672.7,339.7 L671.3,338.5Z"/>
<path class="c" fill="#800026" d="M664.2,324.1 L669.2,322.7 L672.0,324.1 L672.7,327.6 L677.6,328.3 L681.9,326.2 L688.3,327.6 L687.6,345.3 L684.7,342.5 L679.8,342.5 L681.9,338.2 L679.1,334.7 L674.8,331.9 L671.3,331.9 L668.4,328.3 L666.3,326.2Z"/>
<path class="n" d="M636.6,274.0 L640.1,273.3 L641.5,276.9 L640.1,281.8 L642.2,285.4 L645.1,286.8 L643.7,288.9 L640.8,287.5 L638.7,283.2 L636.6,279.0ZM643.7,290.3 L649.3,291.7 L652.9,297.4 L654.3,303.1 L652.2,307.3 L648.6,304.5 L645.1,302.4 L643.7,299.5 L647.2,297.4 L645.1,293.9ZM632.3,299.5 L637.3,293.2 L638.0,293.9 L633.7,300.2Z"/>
<path class="n" d="M633.7,257.0 L635.9,256.0 L636.6,259.9 L635.2,264.1 L633.5,262.0Z"/>
<path class="n" d="M610.4,269.8 L613.2,269.1 L613.9,271.9 L611.8,274.0 L609.7,272.6Z"/>
<path class="c" fill="#9a0026" d="M634.6,223.1 L638.2,221.7 L641.7,224.5 L643.8,228.8 L643.1,230.9 L638.9,232.0 L637.5,228.8 L635.6,225.9Z"/>
<path class="n" d="M628.2,215.3 L632.5,211.8 L636.0,211.1 L637.5,213.2 L636.0,216.7 L638.2,221.7 L634.6,223.1 L631.8,222.4 L631.1,218.2Z"/>
<path class="n" d="M655.9,205.4 L660.1,208.2 L663.7,206.1 L666.5,208.2 L663.7,211.1 L659.4,212.5 L656.6,209.7ZM660.1,213.2 L662.9,215.3 L665.1,220.3 L667.2,224.5 L667.9,228.8 L664.4,230.9 L659.4,233.0 L654.4,233.7 L650.9,235.9 L647.4,235.2 L650.9,232.3 L655.2,229.5 L659.4,226.7 L660.8,222.4 L660.1,218.2ZM648.8,235.9 L652.3,238.0 L651.6,240.4 L649.5,239.4Z"/>
<path class="cl" fill="#fd8d3c" d="M446.7,140.5 L448.9,135.5 L453.8,132.3 L460.9,130.3 L467.3,129.9 L466.6,131.7 L460.9,132.7 L455.9,134.5 L453.1,137.7 L454.5,141.2 L457.4,142.6 L452.4,142.6 L448.9,141.9ZM426.9,122.8 L435.4,122.1 L435.4,123.5 L430.5,124.2ZM493.5,122.8 L497.7,121.8 L504.1,123.5 L508.4,125.2 L507.6,126.6 L502.0,126.0 L496.3,124.6ZM510.5,125.2 L517.6,126.0 L517.6,127.5 L511.9,127.0ZM510.2,125.2 L517.0,126.0 L517.7,127.5 L511.3,127.7ZM573.7,132.0 L579.3,131.3 L586.4,132.7 L585.0,134.1 L579.3,134.1 L575.1,133.4ZM588.5,132.7 L596.3,133.1 L596.3,134.5 L589.2,133.8ZM655.2,141.2 L657.3,141.6 L658.7,142.6 L656.6,142.2ZM638.9,180.9 L641.7,183.0 L645.9,187.9 L650.9,192.2 L654.4,194.3 L654.4,194.8 L657.3,201.2 L654.4,200.5 L652.3,196.2 L648.8,191.2 L644.5,187.0 L641.0,184.2ZM47.4,155.6 L52.4,152.4 L60.6,147.0 L63.6,150.0 L68.0,151.4 L68.0,154.0 L62.4,155.0 L58.0,157.4 L54.0,156.4 L52.4,154.0ZM67.6,142.0 L72.0,140.6 L73.0,141.6 L69.0,142.8Z"/>
<path class="c" fill="#800026" d="M539.7,192.6 L542.5,191.5 L546.7,190.4 L551.0,191.5 L557.4,192.2 L558.1,187.2 L562.3,187.9 L566.6,188.9 L570.8,191.5 L575.1,190.8 L580.7,192.6 L586.4,193.2 L591.4,191.5 L596.3,192.2 L600.8,191.5 L599.9,192.7 L596.4,196.2 L602.7,196.9 L607.7,199.7 L604.2,201.2 L599.2,201.9 L595.7,205.4 L596.4,207.5 L592.8,210.4 L590.0,211.1 L586.0,211.0 L582.0,213.0 L574.0,211.0 L566.0,210.0 L562.0,207.0 L556.0,204.0 L550.0,203.0 L548.0,199.0 L543.0,195.0 L541.0,193.0Z"/>
<path class="cl" fill="#ffffcc" d="M378.0,125.0 L382.0,124.0 L388.0,123.5 L395.0,123.0 L401.5,123.5 L402.0,124.8 L398.0,125.5 L399.0,127.5 L397.0,128.8 L394.5,128.5 L394.0,127.0 L391.5,126.5 L390.0,128.5 L387.0,130.5 L384.0,129.5 L381.0,127.5Z"/>
<path class="cl" fill="#ffffcc" d="M372.0,163.0 L373.5,161.0 L378.0,158.5 L381.5,156.0 L385.0,152.0 L388.5,148.5 L392.5,145.5 L397.0,143.5 L402.0,142.2 L407.0,141.5 L411.0,142.0 L414.0,143.5 L414.5,145.0 L412.0,146.5 L409.5,145.0 L407.0,144.5 L405.5,146.0 L404.0,147.5 L401.5,146.5 L398.5,146.5 L395.5,147.5 L392.5,148.5 L390.0,151.0 L389.0,154.5 L387.0,157.0 L385.0,158.5 L384.0,161.0 L385.0,165.5 L384.5,168.0 L382.5,170.0 L379.5,171.5 L376.5,171.5 L374.0,170.0 L372.5,167.0Z"/>
<path class="cl" fill="#ffffcc" d="M384.0,161.0 L385.0,158.5 L387.0,157.0 L389.0,154.5 L390.0,151.0 L392.5,148.5 L395.5,147.5 L398.5,146.5 L401.5,148.0 L403.0,150.0 L403.5,152.5 L402.0,154.0 L399.0,156.0 L396.0,159.0 L394.5,162.0 L395.0,165.0 L397.0,167.0 L396.0,169.5 L393.5,171.5 L393.0,174.5 L391.5,177.0 L389.5,178.5 L387.5,176.5 L385.5,173.5 L384.0,170.5 L384.5,168.0 L385.0,165.5Z"/>
<path class="cl" fill="#ffffcc" d="M401.5,146.5 L404.0,147.5 L405.5,146.0 L407.0,144.5 L409.5,145.0 L412.0,146.5 L413.0,149.5 L414.5,153.0 L416.0,156.5 L418.0,160.0 L419.0,163.0 L416.0,166.0 L412.0,167.0 L408.0,167.5 L404.5,167.0 L402.0,165.5 L401.0,162.0 L402.0,159.0 L405.0,156.5 L406.0,154.5 L403.5,154.0 L403.5,152.5 L403.0,150.0Z"/>
<path class="cl" fill="#ffffcc" d="M406.5,169.0 L410.5,168.5 L415.0,168.2 L415.5,170.5 L415.0,173.0 L411.5,172.5 L408.5,172.0 L407.0,170.5Z"/>
<path class="cl" fill="#ffffcc" d="M404.0,174.0 L407.0,172.5 L411.0,173.0 L415.0,173.5 L416.5,175.5 L414.5,177.0 L411.0,176.5 L408.0,176.5 L404.5,176.5Z"/>
<path class="cl" fill="#ffeda0" d="M404.0,178.0 L408.0,176.5 L413.0,177.0 L414.0,179.0 L412.0,181.5 L408.0,181.5 L406.5,180.5 L406.0,179.2Z"/>
<path class="cl" fill="#fd8d3c" d="M401.0,180.0 L403.0,179.0 L406.0,179.2 L406.5,180.5 L404.0,180.8Z"/>
<path class="cl" fill="#ffeda0" d="M378.5,174.5 L381.5,173.0 L383.0,174.5 L382.0,177.5 L381.2,180.5 L379.0,180.5 L378.2,177.0ZM384.5,177.2 L386.8,177.0 L387.0,179.5 L385.0,179.8Z"/>
<path class="cl" fill="#ffffcc" d="M352.0,172.0 L355.5,170.5 L358.5,172.0 L357.5,174.0 L359.0,175.0 L360.0,178.0 L361.5,181.0 L363.5,183.0 L365.5,185.0 L366.0,187.5 L364.5,189.0 L361.0,189.5 L357.5,190.0 L354.0,191.0 L351.5,191.5 L352.5,189.5 L355.0,188.5 L355.5,186.5 L353.5,186.0 L354.0,184.0 L356.5,183.0 L355.0,180.5 L353.5,178.5 L352.5,176.5Z"/>
<path class="cl" fill="#ffffcc" d="M344.5,181.5 L347.0,179.5 L350.0,179.5 L351.5,182.0 L351.0,185.0 L348.5,187.0 L345.0,187.5 L343.5,186.5 L344.5,184.5Z"/>
<path class="cl" fill="#ffffcc" d="M361.5,210.5 L360.5,207.0 L360.0,203.0 L358.5,200.5 L355.0,198.0 L353.5,196.0 L356.5,195.0 L359.0,194.5 L360.0,193.0 L363.0,193.5 L366.0,192.0 L368.5,190.0 L370.0,191.5 L373.5,193.0 L375.0,194.0 L378.0,195.0 L378.5,197.5 L376.5,199.5 L376.0,202.0 L378.0,205.0 L378.5,207.5 L377.0,209.0 L373.5,208.5 L370.0,209.5 L368.5,212.0 L365.0,211.5Z"/>
<path class="cl" fill="#ffffcc" d="M344.5,209.0 L348.0,208.5 L353.0,209.5 L358.0,210.0 L361.5,210.5 L365.0,211.5 L368.5,212.0 L367.0,214.5 L364.0,217.0 L362.5,220.0 L361.5,223.0 L358.0,225.0 L354.5,226.5 L351.0,227.5 L349.5,226.0 L347.0,225.0 L347.5,221.5 L348.0,218.0 L349.0,214.5 L348.5,212.5 L344.5,211.5Z"/>
<path class="cl" fill="#fed976" d="M344.5,211.5 L348.5,212.5 L349.0,214.5 L348.0,218.0 L347.5,221.5 L347.0,225.0 L344.5,225.0 L343.5,222.0 L342.5,220.0 L344.0,216.0Z"/>
<path class="cl" fill="#ffffcc" d="M371.0,189.0 L372.0,186.0 L374.5,184.0 L376.5,183.5 L376.5,187.0 L375.0,189.5 L374.0,189.5Z"/>
<path class="cl" fill="#ffffcc" d="M376.5,183.5 L379.0,182.5 L379.5,179.5 L381.5,179.5 L382.0,181.0 L385.0,181.5 L388.0,182.0 L390.5,182.5 L391.0,186.0 L392.5,189.0 L389.5,191.0 L388.0,192.5 L389.5,195.0 L387.0,197.5 L384.0,198.5 L380.0,198.5 L378.5,197.5 L378.0,195.0 L375.0,194.0 L375.0,191.5 L375.0,189.5 L376.5,187.0Z"/>
<path class="cl" fill="#ffeda0" d="M368.5,190.0 L371.0,189.0 L374.0,189.5 L375.0,191.5 L375.0,194.0 L373.5,193.0 L370.0,191.5Z"/>
<path class="cl" fill="#fed976" d="M391.0,182.5 L395.0,180.5 L400.0,180.0 L404.0,180.8 L408.0,181.5 L409.5,185.0 L410.5,189.0 L409.0,192.0 L406.0,193.5 L402.0,192.5 L399.0,191.0 L396.0,191.0 L392.5,189.0 L391.0,186.0Z"/>
<path class="cl" fill="#ffffcc" d="M388.0,192.5 L389.5,191.0 L392.5,189.0 L396.0,191.0 L399.0,191.0 L400.0,193.0 L397.0,195.0 L394.0,195.5 L391.0,195.0 L389.5,195.0Z"/>
<path class="cl" fill="#ffffcc" d="M384.0,198.5 L387.0,197.5 L389.5,195.0 L391.0,195.0 L394.0,195.5 L397.0,195.0 L397.5,197.5 L396.0,200.0 L392.0,201.0 L389.0,200.5 L386.0,200.0Z"/>
<path class="cl" fill="#ffffcc" d="M376.0,199.5 L378.5,197.8 L382.0,198.5 L384.0,199.0 L383.0,201.2 L379.5,202.5 L376.5,202.0Z"/>
<path class="cl" fill="#ffffcc" d="M397.0,195.0 L400.0,193.0 L404.0,193.5 L408.5,194.0 L407.5,196.0 L404.0,196.5 L400.0,197.0 L397.5,197.5Z"/>
<path class="cl" fill="#ffffcc" d="M397.5,197.5 L400.0,197.0 L404.0,196.5 L407.5,196.0 L409.0,197.5 L407.0,200.0 L404.0,202.0 L400.0,202.5 L397.0,201.5 L396.0,200.0Z"/>
<path class="cl" fill="#ffffcc" d="M378.0,205.0 L379.5,202.5 L383.0,201.2 L386.0,200.0 L389.0,200.5 L391.0,202.0 L392.0,204.0 L389.5,205.0 L389.0,207.0 L391.0,209.5 L391.8,210.8 L394.8,213.8 L398.5,216.0 L401.1,217.1 L401.5,218.3 L399.6,218.3 L398.5,219.0 L398.9,220.9 L397.4,222.4 L396.3,220.9 L397.0,219.0 L395.5,217.5 L392.9,215.6 L389.5,213.0 L389.5,212.5 L386.5,209.5 L384.5,207.0 L382.0,207.0 L378.5,207.5Z"/>
<path class="cl" fill="#ffffcc" d="M389.5,222.8 L392.5,222.6 L396.3,222.2 L395.9,224.3 L394.8,225.8 L392.5,224.6 L390.3,224.3Z"/>
<path class="cl" fill="#ffffcc" d="M380.5,215.0 L383.0,214.5 L383.5,218.0 L382.5,220.5 L380.8,220.0Z"/>
<path class="cl" fill="#ffffcc" d="M381.0,210.0 L382.5,209.5 L383.0,212.5 L381.8,214.0 L381.0,212.5Z"/>
<path class="cl" fill="#ffffcc" d="M391.0,202.0 L392.0,201.0 L396.0,200.0 L397.0,201.5 L400.0,202.5 L403.0,203.5 L402.0,204.5 L399.0,204.0 L396.0,203.5 L395.5,204.4 L396.3,205.5 L397.8,207.0 L400.0,208.9 L401.9,210.8 L400.8,210.8 L398.5,208.9 L396.3,207.4 L394.0,205.5 L391.8,204.4 L390.6,203.3Z"/>
<path class="c" fill="#9a0026" d="M395.5,204.4 L398.5,204.0 L401.9,204.4 L403.0,206.3 L403.4,208.5 L401.9,210.8 L400.0,208.9 L397.8,207.0 L396.3,205.5Z"/>
<path class="c" fill="#e31a1c" d="M401.9,202.1 L404.1,201.8 L406.8,203.3 L409.0,205.5 L410.1,207.0 L409.8,209.6 L410.9,210.8 L409.0,211.1 L407.5,210.0 L406.0,209.3 L403.8,208.9 L403.0,206.3 L401.9,204.4Z"/>
<path class="n" d="M401.9,210.8 L403.4,208.5 L403.8,208.9 L406.0,209.3 L407.5,210.0 L409.0,211.1 L409.0,211.9 L406.4,212.6 L405.3,213.8 L403.4,212.6Z"/>
<path class="n" d="M405.3,213.8 L406.4,212.6 L406.8,214.9 L406.4,216.8 L407.5,219.0 L406.0,219.0 L405.1,216.8Z"/>
<path class="cl" fill="#fd8d3c" d="M406.4,212.6 L409.0,211.9 L410.9,212.3 L410.9,214.1 L409.0,215.1 L406.8,214.9Z"/>
<path class="cl" fill="#ffffcc" d="M406.8,215.1 L409.0,215.1 L410.9,214.1 L413.5,213.8 L415.8,213.4 L418.4,213.8 L418.8,215.3 L416.5,215.6 L414.3,215.3 L412.8,216.4 L412.4,217.5 L411.3,216.8 L410.9,217.9 L412.4,220.5 L413.9,222.0 L413.1,223.9 L414.6,225.0 L413.9,226.5 L411.6,226.9 L410.5,225.0 L409.0,223.1 L407.9,220.9 L407.5,219.0 L406.4,216.8Z"/>
<path class="cl" fill="#ffffcc" d="M413.9,229.1 L416.5,229.4 L419.9,229.5 L419.9,230.4 L416.9,230.6 L414.3,230.1Z"/>
<path class="cl" fill="#ffffcc" d="M410.9,210.8 L411.3,208.5 L413.5,207.4 L416.5,207.4 L419.5,206.6 L422.1,207.0 L421.4,209.3 L421.0,211.5 L420.3,213.0 L418.4,213.8 L415.8,213.4 L413.5,213.8 L410.9,214.1 L410.9,212.3Z"/>
<path class="cl" fill="#ffeda0" d="M406.8,203.3 L407.5,200.6 L409.8,198.8 L412.8,197.6 L416.1,197.1 L418.0,198.4 L419.5,200.6 L421.0,203.6 L423.3,204.0 L422.1,207.0 L419.5,206.6 L416.5,207.4 L413.5,207.4 L411.3,208.5 L410.1,207.0 L409.0,205.5Z"/>
<path class="c" fill="#800026" d="M416.9,196.5 L418.8,195.9 L421.0,197.3 L422.9,199.1 L424.0,200.6 L422.1,201.4 L421.0,203.6 L419.5,200.6 L418.0,198.4Z"/>
<path class="c" fill="#9a0026" d="M419.1,212.6 L421.0,212.1 L423.3,213.4 L424.0,214.5 L421.8,214.9 L420.3,216.0 L418.4,216.8 L418.8,214.9Z"/>
<path class="n" d="M615.0,411.0 L618.0,407.0 L617.0,398.0 L619.0,390.0 L616.0,389.0 L618.0,382.0 L622.0,378.0 L630.0,375.0 L638.0,370.0 L643.0,367.0 L648.0,361.0 L655.0,359.0 L657.0,360.0 L662.0,355.0 L667.0,351.0 L675.0,354.0 L676.0,356.0 L673.0,361.0 L679.0,365.0 L684.0,367.0 L687.0,359.0 L689.0,351.0 L691.0,354.0 L693.0,361.0 L694.0,367.0 L698.0,373.0 L700.0,379.0 L704.0,386.0 L706.0,392.0 L704.0,400.0 L701.0,407.0 L697.0,412.0 L692.0,416.0 L686.0,421.0 L679.0,422.0 L675.0,424.0 L669.0,422.4 L665.0,419.0 L663.6,414.0 L665.0,410.0 L662.0,412.0 L659.0,413.0 L658.0,409.0 L653.0,406.0 L645.0,405.0 L637.0,407.0 L630.0,410.0 L624.0,412.0 L619.0,413.6Z"/>
<path class="n" d="M668.0,429.0 L673.0,428.0 L677.0,429.0 L674.0,433.0 L670.0,435.6 L667.6,434.0Z"/>
<path class="n" d="M738.0,412.0 L740.0,411.6 L742.0,416.0 L742.4,419.0 L747.0,421.0 L743.0,424.0 L740.0,427.0 L738.0,430.0 L736.0,429.0 L738.0,424.0 L739.0,419.0ZM730.0,428.0 L732.4,430.0 L728.0,434.0 L720.0,439.0 L713.0,442.4 L708.0,443.6 L705.6,441.0 L712.0,438.0 L720.0,433.0 L726.0,430.0Z"/>
<path class="n" d="M688.0,329.1 L692.5,331.2 L698.2,334.8 L701.7,337.6 L703.1,339.7 L700.3,341.9 L702.4,344.7 L705.9,346.8 L708.8,349.4 L703.8,348.5 L700.3,345.4 L697.5,343.3 L692.5,345.4 L688.0,345.7ZM704.5,335.5 L709.5,336.2 L713.7,333.4 L712.3,329.1 L715.2,331.2 L715.4,334.4 L710.9,338.3 L705.9,337.6ZM719.1,335.8 L723.7,339.0 L729.3,343.3 L735.0,348.2 L734.3,349.9 L728.6,346.1 L722.9,341.4 L719.4,337.6ZM734.7,374.0 L736.7,374.9 L739.9,379.1 L738.5,380.1 L735.7,376.6Z"/>
<path class="c" fill="#800026" d="M743.1,360.3 L744.6,360.3 L745.5,365.0 L744.1,365.2Z"/>
<path class="c" fill="#800026" d="M766.1,367.5 L769.7,366.9 L770.0,368.9 L766.9,369.5Z"/>
<path class="cl" fill="#fc4e2a" d="M186.3,251.4 L189.8,251.9 L190.5,253.6 L189.8,253.9 L189.5,252.6 L186.3,252.3ZM187.2,257.0 L188.4,256.6 L188.8,259.4 L187.6,259.8Z"/>
<path class="c" fill="#9a0026" d="M222.4,276.0 L222.8,276.0 L222.8,277.4 L222.4,277.4ZM223.3,285.2 L223.8,285.2 L223.8,285.8 L223.3,285.8ZM226.5,287.1 L226.9,287.1 L226.9,287.6 L226.5,287.6ZM221.2,290.1 L221.8,290.1 L221.8,290.7 L221.2,290.7Z"/>
<path class="n" d="M220.6,293.8 L223.5,293.4 L223.5,295.3 L220.8,295.3Z"/>
<path class="n" d="M8.0,269.0 L11.0,270.0 L11.6,272.4 L9.0,272.0ZM2.0,264.0 L4.0,264.5 L4.0,266.0 L2.0,265.5Z"/>
</g>
<text x="17.0" y="36.2" font-size="22.5" fill="#363636" textLength="55.3" lengthAdjust="spacingAndGlyphs" font-weight="bold" font-family="'Liberation Serif', serif">Share</text>
<text x="78.6" y="36.2" font-size="22.5" fill="#363636" textLength="17.4" lengthAdjust="spacingAndGlyphs" font-weight="bold" font-family="'Liberation Serif', serif">of</text>
<text x="102.8" y="36.2" font-size="22.5" fill="#363636" textLength="77.2" lengthAdjust="spacingAndGlyphs" font-weight="bold" font-family="'Liberation Serif', serif">workers</text>
<text x="186.6" y="36.2" font-size="22.5" fill="#363636" textLength="19.2" lengthAdjust="spacingAndGlyphs" font-weight="bold" font-family="'Liberation Serif', serif">in</text>
<text x="212.5" y="36.2" font-size="22.5" fill="#363636" textLength="82.5" lengthAdjust="spacingAndGlyphs" font-weight="bold" font-family="'Liberation Serif', serif">informal</text>
<text x="305.0" y="36.2" font-size="22.5" fill="#363636" textLength="119.0" lengthAdjust="spacingAndGlyphs" font-weight="bold" font-family="'Liberation Serif', serif">employment</text>
<text x="431.0" y="36.2" font-size="22.5" fill="#363636" textLength="18.0" lengthAdjust="spacingAndGlyphs" font-weight="bold" font-family="'Liberation Serif', serif">in</text>
<text x="455.0" y="36.2" font-size="22.5" fill="#363636" textLength="30.0" lengthAdjust="spacingAndGlyphs" font-weight="bold" font-family="'Liberation Serif', serif">the</text>
<text x="491.5" y="36.2" font-size="22.5" fill="#363636" textLength="114.5" lengthAdjust="spacingAndGlyphs" font-weight="bold" font-family="'Liberation Serif', serif">agricultural</text>
<text x="614.0" y="36.2" font-size="22.5" fill="#363636" textLength="64.0" lengthAdjust="spacingAndGlyphs" font-weight="bold" font-family="'Liberation Serif', serif">sector,</text>
<text x="17" y="63" font-size="18.5" fill="#363636" font-weight="bold" font-family="'Liberation Serif', serif" textLength="44.6" lengthAdjust="spacingAndGlyphs">2024</text>
<text x="16.6" y="88.0" font-size="14.3" fill="#5b5b5b" textLength="171.9" lengthAdjust="spacingAndGlyphs">Share of employed people</text>
<text x="192.5" y="88.0" font-size="14.3" fill="#5b5b5b" textLength="157.5" lengthAdjust="spacingAndGlyphs">working in jobs that lack</text>
<text x="354.5" y="88.0" font-size="14.3" fill="#5b5b5b" textLength="202.0" lengthAdjust="spacingAndGlyphs">basic social or legal protection</text>
<text x="561.0" y="88.0" font-size="14.3" fill="#5b5b5b" textLength="229.0" lengthAdjust="spacingAndGlyphs">and employment benefits. Does not</text>
<text x="16.6" y="106.0" font-size="14.3" fill="#5b5b5b" textLength="217.4" lengthAdjust="spacingAndGlyphs">include illegal and illicit activities.</text>
<text x="240.0" y="106.0" font-size="14.3" fill="#5b5b5b" textLength="200.0" lengthAdjust="spacingAndGlyphs">The agricultural sector includes</text>
<text x="445.0" y="106.0" font-size="14.3" fill="#5b5b5b" textLength="209.4" lengthAdjust="spacingAndGlyphs">agriculture, forestry, and fishing.</text>
<text x="16.7" y="545.0" font-size="12.5" fill="#5b5b5b" textLength="71.8" lengthAdjust="spacingAndGlyphs" font-weight="bold">Data source:</text>
<text x="92.5" y="545.0" font-size="12.5" fill="#5b5b5b" textLength="192.0" lengthAdjust="spacingAndGlyphs">International Labour Organization</text>
<text x="510.0" y="545.0" font-size="12.5" fill="#5b5b5b" textLength="319.5" lengthAdjust="spacingAndGlyphs">OurWorldinData.org/employment-in-agriculture | CC BY</text>
<text x="16.7" y="565.0" font-size="12.5" fill="#5b5b5b" textLength="31.7" lengthAdjust="spacingAndGlyphs" font-weight="bold">Note:</text>
<text x="53.0" y="565.0" font-size="12.5" fill="#5b5b5b" textLength="192.0" lengthAdjust="spacingAndGlyphs">Figures refer to national estimates</text>
<text x="249.0" y="565.0" font-size="12.5" fill="#5b5b5b" textLength="184.5" lengthAdjust="spacingAndGlyphs">and may not be fully comparable</text>
<text x="437.5" y="565.0" font-size="12.5" fill="#5b5b5b" textLength="181.0" lengthAdjust="spacingAndGlyphs">across countries. Employment is</text>
<text x="623.5" y="565.0" font-size="12.5" fill="#5b5b5b" textLength="189.0" lengthAdjust="spacingAndGlyphs">defined in line with the 13th ICLS</text>
<text x="16.7" y="580.7" font-size="12.5" fill="#5b5b5b" textLength="206.8" lengthAdjust="spacingAndGlyphs">and includes the production of goods</text>
<text x="227.5" y="580.7" font-size="12.5" fill="#5b5b5b" textLength="237.5" lengthAdjust="spacingAndGlyphs">for own use, such as subsistence farming.</text>
<rect x="769" y="16" width="65" height="36" fill="#002147"/><rect x="769" y="49.2" width="65" height="2.8" fill="#ce261e"/><text x="773.9" y="30.6" font-size="11.5" fill="#fff" textLength="55.2" lengthAdjust="spacingAndGlyphs" font-weight="bold">Our World</text>
<text x="783.5" y="42.9" font-size="11.5" fill="#fff" textLength="36.5" lengthAdjust="spacingAndGlyphs" font-weight="bold">in Data</text>
<rect x="165.8" y="501.5" width="58.5" height="11.0" fill="#ffffcc"/><rect x="224.3" y="501.5" width="58.5" height="11.0" fill="#ffeda0"/><rect x="282.8" y="501.5" width="58.5" height="11.0" fill="#fed976"/><rect x="341.3" y="501.5" width="58.5" height="11.0" fill="#feb24c"/><rect x="399.8" y="501.5" width="58.5" height="11.0" fill="#fd8d3c"/><rect x="458.3" y="501.5" width="58.5" height="11.0" fill="#fc4e2a"/><rect x="516.8" y="501.5" width="58.5" height="11.0" fill="#e31a1c"/><rect x="575.3" y="501.5" width="58.5" height="11.0" fill="#bd0026"/><rect x="633.8" y="501.5" width="58.5" height="11.0" fill="#9a0026"/><rect x="692.3" y="501.5" width="58.5" height="11.0" fill="#800026"/><rect x="165.8" y="501.5" width="585.0" height="11.0" fill="none" stroke="#b5b5b5" stroke-width="0.6"/><line x1="165.8" x2="165.8" y1="496" y2="512.5" stroke="#8a8a8a" stroke-width="0.6"/><text x="165.8" y="494.6" text-anchor="middle" font-size="13" fill="#5b5b5b">0%</text><line x1="224.3" x2="224.3" y1="496" y2="512.5" stroke="#8a8a8a" stroke-width="0.6"/><text x="224.3" y="494.6" text-anchor="middle" font-size="13" fill="#5b5b5b">10%</text><line x1="282.8" x2="282.8" y1="496" y2="512.5" stroke="#8a8a8a" stroke-width="0.6"/><text x="282.8" y="494.6" text-anchor="middle" font-size="13" fill="#5b5b5b">20%</text><line x1="341.3" x2="341.3" y1="496" y2="512.5" stroke="#8a8a8a" stroke-width="0.6"/><text x="341.3" y="494.6" text-anchor="middle" font-size="13" fill="#5b5b5b">30%</text><line x1="399.8" x2="399.8" y1="496" y2="512.5" stroke="#8a8a8a" stroke-width="0.6"/><text x="399.8" y="494.6" text-anchor="middle" font-size="13" fill="#5b5b5b">40%</text><line x1="458.3" x2="458.3" y1="496" y2="512.5" stroke="#8a8a8a" stroke-width="0.6"/><text x="458.3" y="494.6" text-anchor="middle" font-size="13" fill="#5b5b5b">50%</text><line x1="516.8" x2="516.8" y1="496" y2="512.5" stroke="#8a8a8a" stroke-width="0.6"/><text x="516.8" y="494.6" text-anchor="middle" font-size="13" fill="#5b5b5b">60%</text><line x1="575.3" x2="575.3" y1="496" y2="512.5" stroke="#8a8a8a" stroke-width="0.6"/><text x="575.3" y="494.6" text-anchor="middle" font-size="13" fill="#5b5b5b">70%</text><line x1="633.8" x2="633.8" y1="496" y2="512.5" stroke="#8a8a8a" stroke-width="0.6"/><text x="633.8" y="494.6" text-anchor="middle" font-size="13" fill="#5b5b5b">80%</text><line x1="692.3" x2="692.3" y1="496" y2="512.5" stroke="#8a8a8a" stroke-width="0.6"/><text x="692.3" y="494.6" text-anchor="middle" font-size="13" fill="#5b5b5b">90%</text><line x1="750.8" x2="750.8" y1="496" y2="512.5" stroke="#8a8a8a" stroke-width="0.6"/><text x="750.8" y="494.6" text-anchor="middle" font-size="13" fill="#5b5b5b">100%</text><rect x="98.5" y="501.5" width="48.3" height="11" fill="url(#h)" stroke="#c4c4c4" stroke-width="0.8"/><line x1="122.6" x2="122.6" y1="498" y2="501.5" stroke="#8a8a8a" stroke-width="0.6"/><text x="99.3" y="494.6" font-size="13" fill="#5b5b5b" textLength="46.2" lengthAdjust="spacingAndGlyphs">No data</text>
</svg>
</body></html>
